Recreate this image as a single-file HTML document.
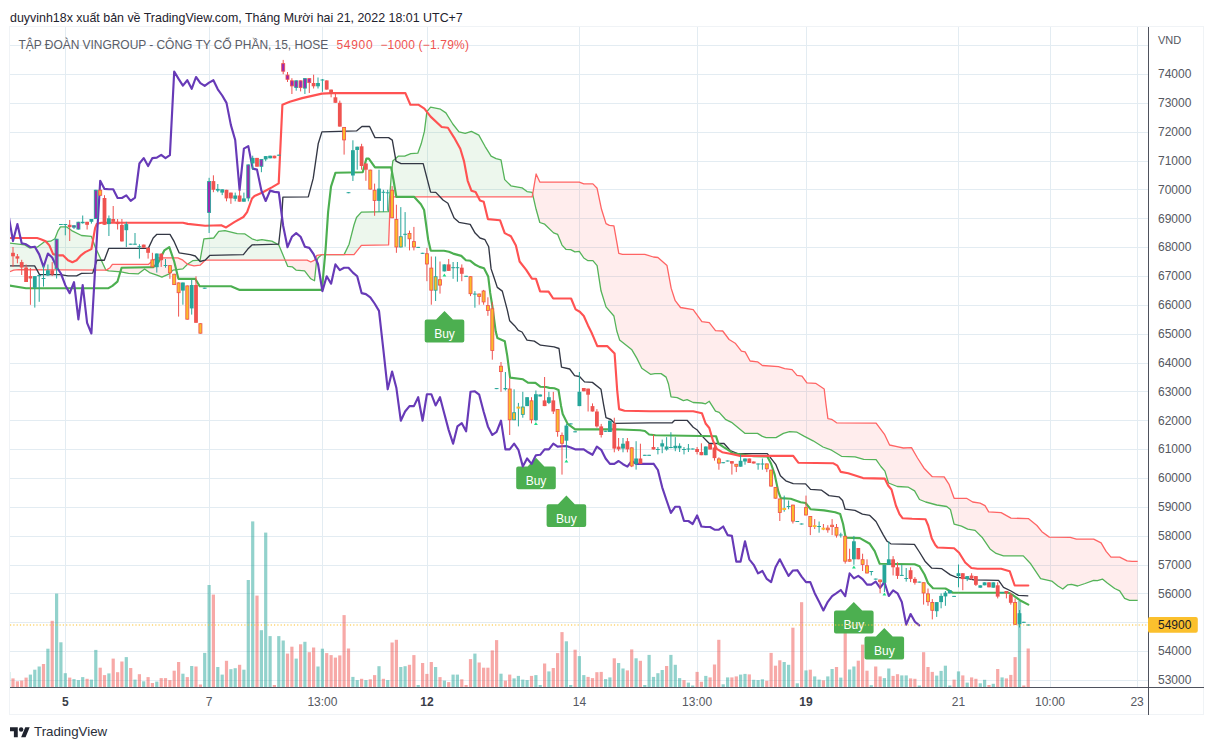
<!DOCTYPE html>
<html lang="vi">
<head>
<meta charset="utf-8">
<title>VIC chart</title>
<style>
html,body{margin:0;padding:0;background:#fff;}
body{width:1214px;height:750px;position:relative;overflow:hidden;font-family:"Liberation Sans",sans-serif;}
.hdr{position:absolute;left:10px;top:10px;font-size:12.43px;line-height:16px;color:#1e222d;white-space:nowrap;}
.leg{position:absolute;left:18.6px;top:37px;font-size:12px;line-height:16px;color:#5a5d68;white-space:nowrap;}
.leg span{letter-spacing:-0.05px;}
.leg b{font-weight:normal;color:#ef5350;}
.leg .b1{margin-left:8.3px;letter-spacing:0.7px;}
.leg .b2{margin-left:7px;letter-spacing:0.19px;}
.ftr{position:absolute;left:34px;top:722.5px;font-size:13.3px;line-height:18px;color:#2a2e39;white-space:nowrap;}
</style>
</head>
<body>
<svg width="1214" height="750" viewBox="0 0 1214 750" style="position:absolute;left:0;top:0">
<defs><clipPath id="pane"><rect x="10" y="27" width="1138" height="660"/></clipPath></defs>
<rect x="9.5" y="26.5" width="1194" height="688" fill="#fff" stroke="#f0f3f6" stroke-width="1"/>
<path d="M10 680.5H1148M10 651.5H1148M10 622.5H1148M10 593.5H1148M10 565.5H1148M10 536.5H1148M10 507.5H1148M10 478.5H1148M10 449.5H1148M10 420.5H1148M10 391.5H1148M10 363.5H1148M10 334.5H1148M10 305.5H1148M10 276.5H1148M10 247.5H1148M10 218.5H1148M10 189.5H1148M10 161.5H1148M10 132.5H1148M10 103.5H1148M10 74.5H1148M10 45.5H1148M65.5 27V687M209.5 27V687M322.5 27V687M427.5 27V687M579.5 27V687M697.5 27V687M806.5 27V687M958.5 27V687M1050.5 27V687M1137.5 27V687" stroke="#e3ecf2" stroke-width="1" fill="none"/>
<g clip-path="url(#pane)">
<rect x="7.1" y="672.0" width="3.2" height="15.0" fill="rgba(38,166,154,0.5)"/>
<rect x="11.4" y="678.4" width="3.2" height="8.6" fill="rgba(239,83,80,0.5)"/>
<rect x="15.8" y="681.3" width="3.2" height="5.7" fill="rgba(239,83,80,0.5)"/>
<rect x="20.1" y="680.6" width="3.2" height="6.4" fill="rgba(239,83,80,0.5)"/>
<rect x="24.5" y="677.6" width="3.2" height="9.4" fill="rgba(239,83,80,0.5)"/>
<rect x="28.8" y="674.6" width="3.2" height="12.4" fill="rgba(38,166,154,0.5)"/>
<rect x="33.2" y="669.7" width="3.2" height="17.3" fill="rgba(38,166,154,0.5)"/>
<rect x="37.6" y="666.5" width="3.2" height="20.5" fill="rgba(38,166,154,0.5)"/>
<rect x="41.9" y="664.0" width="3.2" height="23.0" fill="rgba(239,83,80,0.5)"/>
<rect x="46.3" y="648.7" width="3.2" height="38.3" fill="rgba(38,166,154,0.5)"/>
<rect x="50.6" y="620.8" width="3.2" height="66.2" fill="rgba(239,83,80,0.5)"/>
<rect x="55.0" y="593.6" width="3.2" height="93.4" fill="rgba(38,166,154,0.5)"/>
<rect x="59.3" y="642.3" width="3.2" height="44.7" fill="rgba(38,166,154,0.5)"/>
<rect x="63.7" y="673.2" width="3.2" height="13.8" fill="rgba(38,166,154,0.5)"/>
<rect x="68.1" y="677.6" width="3.2" height="9.4" fill="rgba(239,83,80,0.5)"/>
<rect x="72.4" y="679.1" width="3.2" height="7.9" fill="rgba(38,166,154,0.5)"/>
<rect x="76.8" y="680.1" width="3.2" height="6.9" fill="rgba(38,166,154,0.5)"/>
<rect x="81.1" y="677.1" width="3.2" height="9.9" fill="rgba(38,166,154,0.5)"/>
<rect x="85.5" y="678.8" width="3.2" height="8.2" fill="rgba(239,83,80,0.5)"/>
<rect x="89.8" y="679.6" width="3.2" height="7.4" fill="rgba(38,166,154,0.5)"/>
<rect x="94.2" y="649.9" width="3.2" height="37.1" fill="rgba(38,166,154,0.5)"/>
<rect x="98.6" y="667.7" width="3.2" height="19.3" fill="rgba(239,83,80,0.5)"/>
<rect x="102.9" y="675.1" width="3.2" height="11.9" fill="rgba(239,83,80,0.5)"/>
<rect x="107.3" y="673.4" width="3.2" height="13.6" fill="rgba(38,166,154,0.5)"/>
<rect x="111.6" y="658.6" width="3.2" height="28.4" fill="rgba(239,83,80,0.5)"/>
<rect x="116.0" y="672.2" width="3.2" height="14.8" fill="rgba(239,83,80,0.5)"/>
<rect x="120.3" y="661.5" width="3.2" height="25.5" fill="rgba(239,83,80,0.5)"/>
<rect x="124.7" y="657.1" width="3.2" height="29.9" fill="rgba(38,166,154,0.5)"/>
<rect x="129.1" y="668.0" width="3.2" height="19.0" fill="rgba(239,83,80,0.5)"/>
<rect x="133.4" y="679.6" width="3.2" height="7.4" fill="rgba(38,166,154,0.5)"/>
<rect x="137.8" y="674.2" width="3.2" height="12.8" fill="rgba(239,83,80,0.5)"/>
<rect x="142.1" y="681.3" width="3.2" height="5.7" fill="rgba(38,166,154,0.5)"/>
<rect x="146.5" y="677.1" width="3.2" height="9.9" fill="rgba(239,83,80,0.5)"/>
<rect x="150.8" y="683.0" width="3.2" height="4.0" fill="rgba(239,83,80,0.5)"/>
<rect x="155.2" y="681.6" width="3.2" height="5.4" fill="rgba(38,166,154,0.5)"/>
<rect x="159.6" y="678.1" width="3.2" height="8.9" fill="rgba(239,83,80,0.5)"/>
<rect x="163.9" y="678.1" width="3.2" height="8.9" fill="rgba(239,83,80,0.5)"/>
<rect x="168.3" y="680.1" width="3.2" height="6.9" fill="rgba(239,83,80,0.5)"/>
<rect x="172.6" y="670.7" width="3.2" height="16.3" fill="rgba(239,83,80,0.5)"/>
<rect x="177.0" y="662.0" width="3.2" height="25.0" fill="rgba(239,83,80,0.5)"/>
<rect x="181.3" y="673.7" width="3.2" height="13.3" fill="rgba(38,166,154,0.5)"/>
<rect x="185.7" y="677.1" width="3.2" height="9.9" fill="rgba(239,83,80,0.5)"/>
<rect x="190.1" y="666.0" width="3.2" height="21.0" fill="rgba(38,166,154,0.5)"/>
<rect x="194.4" y="666.5" width="3.2" height="20.5" fill="rgba(239,83,80,0.5)"/>
<rect x="198.8" y="684.5" width="3.2" height="2.5" fill="rgba(239,83,80,0.5)"/>
<rect x="203.1" y="652.9" width="3.2" height="34.1" fill="rgba(38,166,154,0.5)"/>
<rect x="207.5" y="585.0" width="3.2" height="102.0" fill="rgba(38,166,154,0.5)"/>
<rect x="211.8" y="594.6" width="3.2" height="92.4" fill="rgba(239,83,80,0.5)"/>
<rect x="216.2" y="667.0" width="3.2" height="20.0" fill="rgba(38,166,154,0.5)"/>
<rect x="220.6" y="674.6" width="3.2" height="12.4" fill="rgba(38,166,154,0.5)"/>
<rect x="224.9" y="660.8" width="3.2" height="26.2" fill="rgba(239,83,80,0.5)"/>
<rect x="229.3" y="669.2" width="3.2" height="17.8" fill="rgba(38,166,154,0.5)"/>
<rect x="233.6" y="668.2" width="3.2" height="18.8" fill="rgba(38,166,154,0.5)"/>
<rect x="238.0" y="664.8" width="3.2" height="22.2" fill="rgba(239,83,80,0.5)"/>
<rect x="242.3" y="669.7" width="3.2" height="17.3" fill="rgba(38,166,154,0.5)"/>
<rect x="246.7" y="580.0" width="3.2" height="107.0" fill="rgba(38,166,154,0.5)"/>
<rect x="251.1" y="521.4" width="3.2" height="165.6" fill="rgba(38,166,154,0.5)"/>
<rect x="255.4" y="595.6" width="3.2" height="91.4" fill="rgba(239,83,80,0.5)"/>
<rect x="259.8" y="630.2" width="3.2" height="56.8" fill="rgba(38,166,154,0.5)"/>
<rect x="264.1" y="532.6" width="3.2" height="154.4" fill="rgba(38,166,154,0.5)"/>
<rect x="268.5" y="636.1" width="3.2" height="50.9" fill="rgba(38,166,154,0.5)"/>
<rect x="272.8" y="685.0" width="3.2" height="2.0" fill="rgba(239,83,80,0.5)"/>
<rect x="277.2" y="636.1" width="3.2" height="50.9" fill="rgba(38,166,154,0.5)"/>
<rect x="281.6" y="640.5" width="3.2" height="46.5" fill="rgba(38,166,154,0.5)"/>
<rect x="285.9" y="653.6" width="3.2" height="33.4" fill="rgba(239,83,80,0.5)"/>
<rect x="290.3" y="646.7" width="3.2" height="40.3" fill="rgba(239,83,80,0.5)"/>
<rect x="294.6" y="658.6" width="3.2" height="28.4" fill="rgba(38,166,154,0.5)"/>
<rect x="299.0" y="644.3" width="3.2" height="42.7" fill="rgba(239,83,80,0.5)"/>
<rect x="303.3" y="641.8" width="3.2" height="45.2" fill="rgba(38,166,154,0.5)"/>
<rect x="307.7" y="652.2" width="3.2" height="34.8" fill="rgba(239,83,80,0.5)"/>
<rect x="312.0" y="647.5" width="3.2" height="39.5" fill="rgba(239,83,80,0.5)"/>
<rect x="316.4" y="666.5" width="3.2" height="20.5" fill="rgba(38,166,154,0.5)"/>
<rect x="320.8" y="648.7" width="3.2" height="38.3" fill="rgba(38,166,154,0.5)"/>
<rect x="325.1" y="653.1" width="3.2" height="33.9" fill="rgba(239,83,80,0.5)"/>
<rect x="329.5" y="655.1" width="3.2" height="31.9" fill="rgba(239,83,80,0.5)"/>
<rect x="333.8" y="657.6" width="3.2" height="29.4" fill="rgba(239,83,80,0.5)"/>
<rect x="338.2" y="655.4" width="3.2" height="31.6" fill="rgba(239,83,80,0.5)"/>
<rect x="342.5" y="615.1" width="3.2" height="71.9" fill="rgba(239,83,80,0.5)"/>
<rect x="346.9" y="648.5" width="3.2" height="38.5" fill="rgba(239,83,80,0.5)"/>
<rect x="351.3" y="676.9" width="3.2" height="10.1" fill="rgba(38,166,154,0.5)"/>
<rect x="355.6" y="680.1" width="3.2" height="6.9" fill="rgba(38,166,154,0.5)"/>
<rect x="360.0" y="678.8" width="3.2" height="8.2" fill="rgba(239,83,80,0.5)"/>
<rect x="364.3" y="680.1" width="3.2" height="6.9" fill="rgba(38,166,154,0.5)"/>
<rect x="368.7" y="679.3" width="3.2" height="7.7" fill="rgba(239,83,80,0.5)"/>
<rect x="373.0" y="675.1" width="3.2" height="11.9" fill="rgba(239,83,80,0.5)"/>
<rect x="377.4" y="666.2" width="3.2" height="20.8" fill="rgba(38,166,154,0.5)"/>
<rect x="381.8" y="678.8" width="3.2" height="8.2" fill="rgba(239,83,80,0.5)"/>
<rect x="386.1" y="680.1" width="3.2" height="6.9" fill="rgba(38,166,154,0.5)"/>
<rect x="390.5" y="642.5" width="3.2" height="44.5" fill="rgba(239,83,80,0.5)"/>
<rect x="394.8" y="639.8" width="3.2" height="47.2" fill="rgba(239,83,80,0.5)"/>
<rect x="399.2" y="667.0" width="3.2" height="20.0" fill="rgba(38,166,154,0.5)"/>
<rect x="403.5" y="666.2" width="3.2" height="20.8" fill="rgba(38,166,154,0.5)"/>
<rect x="407.9" y="664.8" width="3.2" height="22.2" fill="rgba(239,83,80,0.5)"/>
<rect x="412.3" y="655.1" width="3.2" height="31.9" fill="rgba(239,83,80,0.5)"/>
<rect x="416.6" y="685.0" width="3.2" height="2.0" fill="rgba(38,166,154,0.5)"/>
<rect x="421.0" y="663.0" width="3.2" height="24.0" fill="rgba(239,83,80,0.5)"/>
<rect x="425.3" y="673.9" width="3.2" height="13.1" fill="rgba(239,83,80,0.5)"/>
<rect x="429.7" y="662.0" width="3.2" height="25.0" fill="rgba(239,83,80,0.5)"/>
<rect x="434.0" y="667.0" width="3.2" height="20.0" fill="rgba(38,166,154,0.5)"/>
<rect x="438.4" y="677.1" width="3.2" height="9.9" fill="rgba(239,83,80,0.5)"/>
<rect x="442.8" y="680.6" width="3.2" height="6.4" fill="rgba(38,166,154,0.5)"/>
<rect x="447.1" y="682.1" width="3.2" height="4.9" fill="rgba(239,83,80,0.5)"/>
<rect x="451.5" y="674.6" width="3.2" height="12.4" fill="rgba(38,166,154,0.5)"/>
<rect x="455.8" y="674.6" width="3.2" height="12.4" fill="rgba(38,166,154,0.5)"/>
<rect x="460.2" y="679.3" width="3.2" height="7.7" fill="rgba(239,83,80,0.5)"/>
<rect x="464.5" y="685.0" width="3.2" height="2.0" fill="rgba(239,83,80,0.5)"/>
<rect x="468.9" y="659.1" width="3.2" height="27.9" fill="rgba(239,83,80,0.5)"/>
<rect x="473.3" y="653.6" width="3.2" height="33.4" fill="rgba(38,166,154,0.5)"/>
<rect x="477.6" y="662.5" width="3.2" height="24.5" fill="rgba(239,83,80,0.5)"/>
<rect x="482.0" y="667.7" width="3.2" height="19.3" fill="rgba(239,83,80,0.5)"/>
<rect x="486.3" y="667.7" width="3.2" height="19.3" fill="rgba(239,83,80,0.5)"/>
<rect x="490.7" y="650.4" width="3.2" height="36.6" fill="rgba(239,83,80,0.5)"/>
<rect x="495.0" y="640.1" width="3.2" height="46.9" fill="rgba(239,83,80,0.5)"/>
<rect x="499.4" y="673.7" width="3.2" height="13.3" fill="rgba(38,166,154,0.5)"/>
<rect x="503.8" y="680.6" width="3.2" height="6.4" fill="rgba(239,83,80,0.5)"/>
<rect x="508.1" y="674.6" width="3.2" height="12.4" fill="rgba(239,83,80,0.5)"/>
<rect x="512.5" y="678.4" width="3.2" height="8.6" fill="rgba(38,166,154,0.5)"/>
<rect x="516.8" y="675.9" width="3.2" height="11.1" fill="rgba(38,166,154,0.5)"/>
<rect x="521.2" y="679.6" width="3.2" height="7.4" fill="rgba(38,166,154,0.5)"/>
<rect x="525.5" y="680.1" width="3.2" height="6.9" fill="rgba(38,166,154,0.5)"/>
<rect x="529.9" y="675.9" width="3.2" height="11.1" fill="rgba(239,83,80,0.5)"/>
<rect x="534.3" y="675.1" width="3.2" height="11.9" fill="rgba(38,166,154,0.5)"/>
<rect x="538.6" y="685.0" width="3.2" height="2.0" fill="rgba(38,166,154,0.5)"/>
<rect x="543.0" y="663.5" width="3.2" height="23.5" fill="rgba(239,83,80,0.5)"/>
<rect x="547.3" y="671.4" width="3.2" height="15.6" fill="rgba(38,166,154,0.5)"/>
<rect x="551.7" y="668.0" width="3.2" height="19.0" fill="rgba(239,83,80,0.5)"/>
<rect x="556.0" y="653.1" width="3.2" height="33.9" fill="rgba(239,83,80,0.5)"/>
<rect x="560.4" y="632.1" width="3.2" height="54.9" fill="rgba(239,83,80,0.5)"/>
<rect x="564.8" y="641.3" width="3.2" height="45.7" fill="rgba(38,166,154,0.5)"/>
<rect x="569.1" y="685.0" width="3.2" height="2.0" fill="rgba(38,166,154,0.5)"/>
<rect x="573.5" y="649.7" width="3.2" height="37.3" fill="rgba(239,83,80,0.5)"/>
<rect x="577.8" y="656.1" width="3.2" height="30.9" fill="rgba(38,166,154,0.5)"/>
<rect x="582.2" y="675.1" width="3.2" height="11.9" fill="rgba(38,166,154,0.5)"/>
<rect x="586.5" y="676.9" width="3.2" height="10.1" fill="rgba(239,83,80,0.5)"/>
<rect x="590.9" y="678.1" width="3.2" height="8.9" fill="rgba(239,83,80,0.5)"/>
<rect x="595.3" y="672.2" width="3.2" height="14.8" fill="rgba(239,83,80,0.5)"/>
<rect x="599.6" y="671.9" width="3.2" height="15.1" fill="rgba(239,83,80,0.5)"/>
<rect x="604.0" y="679.1" width="3.2" height="7.9" fill="rgba(38,166,154,0.5)"/>
<rect x="608.3" y="677.4" width="3.2" height="9.6" fill="rgba(38,166,154,0.5)"/>
<rect x="612.7" y="658.3" width="3.2" height="28.7" fill="rgba(239,83,80,0.5)"/>
<rect x="617.0" y="663.0" width="3.2" height="24.0" fill="rgba(38,166,154,0.5)"/>
<rect x="621.4" y="668.5" width="3.2" height="18.5" fill="rgba(38,166,154,0.5)"/>
<rect x="625.8" y="670.4" width="3.2" height="16.6" fill="rgba(239,83,80,0.5)"/>
<rect x="630.1" y="649.4" width="3.2" height="37.6" fill="rgba(239,83,80,0.5)"/>
<rect x="634.5" y="658.3" width="3.2" height="28.7" fill="rgba(38,166,154,0.5)"/>
<rect x="638.8" y="660.8" width="3.2" height="26.2" fill="rgba(239,83,80,0.5)"/>
<rect x="643.2" y="685.0" width="3.2" height="2.0" fill="rgba(38,166,154,0.5)"/>
<rect x="647.5" y="654.9" width="3.2" height="32.1" fill="rgba(38,166,154,0.5)"/>
<rect x="651.9" y="676.9" width="3.2" height="10.1" fill="rgba(38,166,154,0.5)"/>
<rect x="656.3" y="673.2" width="3.2" height="13.8" fill="rgba(38,166,154,0.5)"/>
<rect x="660.6" y="670.0" width="3.2" height="17.0" fill="rgba(38,166,154,0.5)"/>
<rect x="665.0" y="666.0" width="3.2" height="21.0" fill="rgba(239,83,80,0.5)"/>
<rect x="669.3" y="654.9" width="3.2" height="32.1" fill="rgba(38,166,154,0.5)"/>
<rect x="673.7" y="664.8" width="3.2" height="22.2" fill="rgba(38,166,154,0.5)"/>
<rect x="678.0" y="678.1" width="3.2" height="8.9" fill="rgba(38,166,154,0.5)"/>
<rect x="682.4" y="680.1" width="3.2" height="6.9" fill="rgba(239,83,80,0.5)"/>
<rect x="686.8" y="682.6" width="3.2" height="4.4" fill="rgba(38,166,154,0.5)"/>
<rect x="691.1" y="685.5" width="3.2" height="1.5" fill="rgba(38,166,154,0.5)"/>
<rect x="695.5" y="671.9" width="3.2" height="15.1" fill="rgba(239,83,80,0.5)"/>
<rect x="699.8" y="681.8" width="3.2" height="5.2" fill="rgba(239,83,80,0.5)"/>
<rect x="704.2" y="675.9" width="3.2" height="11.1" fill="rgba(38,166,154,0.5)"/>
<rect x="708.5" y="677.4" width="3.2" height="9.6" fill="rgba(239,83,80,0.5)"/>
<rect x="712.9" y="664.5" width="3.2" height="22.5" fill="rgba(239,83,80,0.5)"/>
<rect x="717.2" y="639.8" width="3.2" height="47.2" fill="rgba(239,83,80,0.5)"/>
<rect x="721.6" y="684.3" width="3.2" height="2.7" fill="rgba(38,166,154,0.5)"/>
<rect x="726.0" y="677.4" width="3.2" height="9.6" fill="rgba(38,166,154,0.5)"/>
<rect x="730.3" y="677.4" width="3.2" height="9.6" fill="rgba(239,83,80,0.5)"/>
<rect x="734.7" y="676.4" width="3.2" height="10.6" fill="rgba(239,83,80,0.5)"/>
<rect x="739.0" y="674.6" width="3.2" height="12.4" fill="rgba(38,166,154,0.5)"/>
<rect x="743.4" y="673.9" width="3.2" height="13.1" fill="rgba(38,166,154,0.5)"/>
<rect x="747.7" y="674.4" width="3.2" height="12.6" fill="rgba(239,83,80,0.5)"/>
<rect x="752.1" y="679.8" width="3.2" height="7.2" fill="rgba(38,166,154,0.5)"/>
<rect x="756.5" y="680.1" width="3.2" height="6.9" fill="rgba(38,166,154,0.5)"/>
<rect x="760.8" y="679.3" width="3.2" height="7.7" fill="rgba(38,166,154,0.5)"/>
<rect x="765.2" y="680.8" width="3.2" height="6.2" fill="rgba(239,83,80,0.5)"/>
<rect x="769.5" y="652.9" width="3.2" height="34.1" fill="rgba(239,83,80,0.5)"/>
<rect x="773.9" y="665.7" width="3.2" height="21.3" fill="rgba(239,83,80,0.5)"/>
<rect x="778.2" y="660.3" width="3.2" height="26.7" fill="rgba(239,83,80,0.5)"/>
<rect x="782.6" y="662.0" width="3.2" height="25.0" fill="rgba(38,166,154,0.5)"/>
<rect x="787.0" y="664.8" width="3.2" height="22.2" fill="rgba(38,166,154,0.5)"/>
<rect x="791.3" y="627.7" width="3.2" height="59.3" fill="rgba(239,83,80,0.5)"/>
<rect x="795.7" y="683.3" width="3.2" height="3.7" fill="rgba(38,166,154,0.5)"/>
<rect x="800.0" y="602.2" width="3.2" height="84.8" fill="rgba(239,83,80,0.5)"/>
<rect x="804.4" y="670.4" width="3.2" height="16.6" fill="rgba(38,166,154,0.5)"/>
<rect x="808.7" y="669.7" width="3.2" height="17.3" fill="rgba(239,83,80,0.5)"/>
<rect x="813.1" y="676.4" width="3.2" height="10.6" fill="rgba(38,166,154,0.5)"/>
<rect x="817.5" y="679.6" width="3.2" height="7.4" fill="rgba(38,166,154,0.5)"/>
<rect x="821.8" y="680.3" width="3.2" height="6.7" fill="rgba(239,83,80,0.5)"/>
<rect x="826.2" y="676.4" width="3.2" height="10.6" fill="rgba(38,166,154,0.5)"/>
<rect x="830.5" y="669.0" width="3.2" height="18.0" fill="rgba(38,166,154,0.5)"/>
<rect x="834.9" y="667.0" width="3.2" height="20.0" fill="rgba(239,83,80,0.5)"/>
<rect x="839.2" y="677.6" width="3.2" height="9.4" fill="rgba(38,166,154,0.5)"/>
<rect x="843.6" y="611.0" width="3.2" height="76.0" fill="rgba(239,83,80,0.5)"/>
<rect x="848.0" y="669.5" width="3.2" height="17.5" fill="rgba(38,166,154,0.5)"/>
<rect x="852.3" y="666.5" width="3.2" height="20.5" fill="rgba(38,166,154,0.5)"/>
<rect x="856.7" y="660.7" width="3.2" height="26.3" fill="rgba(239,83,80,0.5)"/>
<rect x="861.0" y="644.6" width="3.2" height="42.4" fill="rgba(239,83,80,0.5)"/>
<rect x="865.4" y="670.7" width="3.2" height="16.3" fill="rgba(239,83,80,0.5)"/>
<rect x="869.7" y="685.2" width="3.2" height="1.8" fill="rgba(38,166,154,0.5)"/>
<rect x="874.1" y="666.5" width="3.2" height="20.5" fill="rgba(239,83,80,0.5)"/>
<rect x="878.5" y="676.4" width="3.2" height="10.6" fill="rgba(239,83,80,0.5)"/>
<rect x="882.8" y="678.1" width="3.2" height="8.9" fill="rgba(38,166,154,0.5)"/>
<rect x="887.2" y="668.5" width="3.2" height="18.5" fill="rgba(38,166,154,0.5)"/>
<rect x="891.5" y="675.9" width="3.2" height="11.1" fill="rgba(239,83,80,0.5)"/>
<rect x="895.9" y="674.2" width="3.2" height="12.8" fill="rgba(239,83,80,0.5)"/>
<rect x="900.2" y="675.4" width="3.2" height="11.6" fill="rgba(38,166,154,0.5)"/>
<rect x="904.6" y="675.4" width="3.2" height="11.6" fill="rgba(38,166,154,0.5)"/>
<rect x="909.0" y="678.4" width="3.2" height="8.6" fill="rgba(239,83,80,0.5)"/>
<rect x="913.3" y="678.8" width="3.2" height="8.2" fill="rgba(239,83,80,0.5)"/>
<rect x="917.7" y="685.5" width="3.2" height="1.5" fill="rgba(38,166,154,0.5)"/>
<rect x="922.0" y="652.2" width="3.2" height="34.8" fill="rgba(239,83,80,0.5)"/>
<rect x="926.4" y="667.0" width="3.2" height="20.0" fill="rgba(239,83,80,0.5)"/>
<rect x="930.7" y="671.9" width="3.2" height="15.1" fill="rgba(239,83,80,0.5)"/>
<rect x="935.1" y="675.6" width="3.2" height="11.4" fill="rgba(38,166,154,0.5)"/>
<rect x="939.5" y="670.9" width="3.2" height="16.1" fill="rgba(38,166,154,0.5)"/>
<rect x="943.8" y="665.7" width="3.2" height="21.3" fill="rgba(38,166,154,0.5)"/>
<rect x="948.2" y="685.5" width="3.2" height="1.5" fill="rgba(38,166,154,0.5)"/>
<rect x="952.5" y="679.6" width="3.2" height="7.4" fill="rgba(239,83,80,0.5)"/>
<rect x="956.9" y="671.4" width="3.2" height="15.6" fill="rgba(38,166,154,0.5)"/>
<rect x="961.2" y="675.4" width="3.2" height="11.6" fill="rgba(239,83,80,0.5)"/>
<rect x="965.6" y="682.6" width="3.2" height="4.4" fill="rgba(38,166,154,0.5)"/>
<rect x="970.0" y="677.4" width="3.2" height="9.6" fill="rgba(239,83,80,0.5)"/>
<rect x="974.3" y="678.8" width="3.2" height="8.2" fill="rgba(239,83,80,0.5)"/>
<rect x="978.7" y="683.3" width="3.2" height="3.7" fill="rgba(38,166,154,0.5)"/>
<rect x="983.0" y="679.8" width="3.2" height="7.2" fill="rgba(38,166,154,0.5)"/>
<rect x="987.4" y="685.0" width="3.2" height="2.0" fill="rgba(239,83,80,0.5)"/>
<rect x="991.7" y="683.8" width="3.2" height="3.2" fill="rgba(38,166,154,0.5)"/>
<rect x="996.1" y="669.0" width="3.2" height="18.0" fill="rgba(239,83,80,0.5)"/>
<rect x="1000.5" y="677.4" width="3.2" height="9.6" fill="rgba(38,166,154,0.5)"/>
<rect x="1004.8" y="678.4" width="3.2" height="8.6" fill="rgba(239,83,80,0.5)"/>
<rect x="1009.2" y="674.9" width="3.2" height="12.1" fill="rgba(239,83,80,0.5)"/>
<rect x="1013.5" y="657.1" width="3.2" height="29.9" fill="rgba(239,83,80,0.5)"/>
<rect x="1017.9" y="601.0" width="3.2" height="86.0" fill="rgba(38,166,154,0.5)"/>
<rect x="1022.2" y="685.5" width="3.2" height="1.5" fill="rgba(239,83,80,0.5)"/>
<rect x="1026.6" y="648.5" width="3.2" height="38.5" fill="rgba(239,83,80,0.5)"/>
<path d="M444.5 311.0l8.4 8.6h9.4a2 2 0 0 1 2 2v18.9a2 2 0 0 1-2 2h-35.6a2 2 0 0 1-2-2v-18.9a2 2 0 0 1 2-2h9.4z" fill="#4caf50"/>
<text x="444.5" y="338.2" font-size="12" fill="#fff" text-anchor="middle" font-family="Liberation Sans, sans-serif">Buy</text>
<path d="M536.0 457.8l8.4 8.6h9.4a2 2 0 0 1 2 2v18.9a2 2 0 0 1-2 2h-35.6a2 2 0 0 1-2-2v-18.9a2 2 0 0 1 2-2h9.4z" fill="#4caf50"/>
<text x="536.0" y="485.0" font-size="12" fill="#fff" text-anchor="middle" font-family="Liberation Sans, sans-serif">Buy</text>
<path d="M566.4 495.6l8.4 8.6h9.4a2 2 0 0 1 2 2v18.9a2 2 0 0 1-2 2h-35.6a2 2 0 0 1-2-2v-18.9a2 2 0 0 1 2-2h9.4z" fill="#4caf50"/>
<text x="566.4" y="522.8" font-size="12" fill="#fff" text-anchor="middle" font-family="Liberation Sans, sans-serif">Buy</text>
<path d="M853.8 602.0l8.4 8.6h9.4a2 2 0 0 1 2 2v18.9a2 2 0 0 1-2 2h-35.6a2 2 0 0 1-2-2v-18.9a2 2 0 0 1 2-2h9.4z" fill="#4caf50"/>
<text x="853.8" y="629.2" font-size="12" fill="#fff" text-anchor="middle" font-family="Liberation Sans, sans-serif">Buy</text>
<path d="M884.3 628.0l8.4 8.6h9.4a2 2 0 0 1 2 2v18.9a2 2 0 0 1-2 2h-35.6a2 2 0 0 1-2-2v-18.9a2 2 0 0 1 2-2h9.4z" fill="#4caf50"/>
<text x="884.3" y="655.2" font-size="12" fill="#fff" text-anchor="middle" font-family="Liberation Sans, sans-serif">Buy</text>
<polygon points="8.0,242.8 8.5,242.9 9.0,242.9 9.5,243.0 10.0,243.1 10.5,243.1 11.0,243.2 11.5,243.2 12.0,243.3 12.5,243.4 13.0,243.4 13.5,243.5 14.0,243.6 14.5,243.6 15.0,243.7 15.5,243.7 16.0,243.8 16.5,243.9 17.0,243.9 17.5,244.0 18.0,244.1 18.5,244.1 19.0,244.2 19.5,244.2 20.0,244.3 20.5,244.4 21.0,244.4 21.5,244.5 22.0,244.6 22.5,244.6 23.0,244.7 23.5,244.7 24.0,244.8 24.5,244.9 25.0,245.1 25.5,245.4 26.0,245.7 26.5,246.0 27.0,246.3 27.5,246.6 28.0,246.9 28.5,247.2 29.0,247.5 29.5,247.8 30.0,247.9 30.5,247.8 31.0,247.8 31.5,247.7 32.0,247.7 32.5,247.6 33.0,247.6 33.5,247.5 34.0,247.5 34.5,247.4 35.0,247.4 35.5,247.4 36.0,247.3 36.5,247.3 37.0,247.2 37.5,246.9 38.0,246.5 38.5,246.2 39.0,245.8 39.5,245.4 40.0,245.0 40.5,244.7 41.0,244.3 41.5,243.9 42.0,243.6 42.5,243.2 43.0,242.8 43.5,242.4 44.0,242.1 44.5,241.7 45.0,241.7 45.5,241.6 46.0,241.6 46.5,241.5 47.0,241.5 47.5,241.5 48.0,241.4 48.5,241.4 49.0,241.3 49.5,241.3 50.0,241.3 50.5,241.2 51.0,241.0 51.5,240.7 52.0,240.5 52.5,240.2 53.0,239.9 53.5,239.6 54.0,239.3 54.5,239.0 55.0,238.5 55.5,237.3 56.0,236.0 56.5,234.7 57.0,233.4 57.5,232.1 58.0,230.9 58.5,230.0 59.0,229.2 59.5,228.4 60.0,227.7 60.5,226.9 61.0,226.9 61.5,226.9 62.0,226.9 62.5,226.9 63.0,226.9 63.5,226.9 64.0,226.9 64.5,226.9 65.0,226.9 65.5,226.9 66.0,226.9 66.5,226.9 67.0,227.1 67.5,227.5 68.0,227.9 68.5,228.2 69.0,228.6 69.5,229.0 70.0,229.3 70.5,229.7 71.0,230.1 71.5,230.5 72.0,230.8 72.5,231.0 73.0,231.2 73.5,231.5 74.0,231.8 74.5,232.0 75.0,232.2 75.5,232.5 76.0,232.8 76.5,233.0 77.0,233.2 77.5,233.5 78.0,233.8 78.5,234.0 79.0,234.2 79.5,234.5 80.0,234.8 80.5,235.0 81.0,235.2 81.5,235.5 82.0,235.5 82.5,235.6 83.0,235.6 83.5,235.7 84.0,235.7 84.5,235.7 85.0,235.8 85.5,235.8 86.0,235.9 86.5,235.9 87.0,235.9 87.5,236.0 88.0,236.0 88.5,236.1 89.0,236.1 89.5,236.1 90.0,236.2 90.5,236.2 91.0,236.3 91.5,236.6 92.0,238.0 92.5,239.4 93.0,240.8 93.5,242.2 94.0,243.6 94.5,245.0 95.0,246.4 95.5,247.6 96.0,248.7 96.5,249.7 97.0,250.8 97.5,251.9 98.0,253.0 98.5,254.1 99.0,255.2 99.5,256.3 100.0,257.4 100.5,258.5 101.0,259.5 101.5,260.6 102.0,261.7 102.5,262.8 103.0,263.9 103.5,265.0 104.0,266.1 104.5,267.2 105.0,268.3 105.5,269.4 106.0,270.2 106.0,270.1 105.5,270.1 105.0,270.1 104.5,270.1 104.0,270.1 103.5,270.1 103.0,270.1 102.5,270.1 102.0,270.1 101.5,270.1 101.0,270.1 100.5,270.1 100.0,270.1 99.5,270.1 99.0,270.1 98.5,270.1 98.0,270.1 97.5,270.0 97.0,270.0 96.5,270.0 96.0,270.0 95.5,270.0 95.0,270.0 94.5,270.0 94.0,270.0 93.5,270.0 93.0,270.0 92.5,270.0 92.0,270.0 91.5,270.0 91.0,270.0 90.5,270.0 90.0,270.0 89.5,270.0 89.0,270.0 88.5,270.0 88.0,270.0 87.5,270.0 87.0,270.0 86.5,270.0 86.0,270.0 85.5,270.0 85.0,270.0 84.5,270.0 84.0,270.0 83.5,270.0 83.0,270.0 82.5,270.0 82.0,270.0 81.5,270.0 81.0,270.0 80.5,270.0 80.0,270.0 79.5,269.9 79.0,269.9 78.5,269.9 78.0,269.9 77.5,269.9 77.0,269.9 76.5,269.9 76.0,269.9 75.5,269.9 75.0,269.9 74.5,269.9 74.0,269.9 73.5,269.9 73.0,269.9 72.5,269.9 72.0,269.9 71.5,269.9 71.0,269.9 70.5,269.9 70.0,269.9 69.5,269.9 69.0,269.9 68.5,269.9 68.0,269.9 67.5,269.9 67.0,269.9 66.5,269.9 66.0,269.9 65.5,269.9 65.0,269.9 64.5,269.9 64.0,269.9 63.5,269.9 63.0,269.9 62.5,269.9 62.0,269.8 61.5,269.8 61.0,269.8 60.5,269.8 60.0,269.8 59.5,269.8 59.0,269.8 58.5,269.8 58.0,269.8 57.5,269.8 57.0,269.8 56.5,269.8 56.0,269.8 55.5,269.8 55.0,269.8 54.5,269.8 54.0,269.8 53.5,269.8 53.0,269.8 52.5,269.8 52.0,269.8 51.5,269.8 51.0,269.8 50.5,269.8 50.0,269.8 49.5,269.8 49.0,269.8 48.5,269.8 48.0,269.8 47.5,269.8 47.0,269.8 46.5,269.8 46.0,269.8 45.5,269.8 45.0,269.8 44.5,269.7 44.0,269.7 43.5,269.7 43.0,269.7 42.5,269.7 42.0,269.7 41.5,269.7 41.0,269.7 40.5,269.7 40.0,269.7 39.5,269.7 39.0,269.7 38.5,269.7 38.0,269.7 37.5,269.7 37.0,269.7 36.5,269.7 36.0,269.7 35.5,269.7 35.0,269.7 34.5,269.7 34.0,269.7 33.5,269.7 33.0,269.7 32.5,269.7 32.0,269.7 31.5,269.7 31.0,269.7 30.5,269.7 30.0,269.7 29.5,269.7 29.0,269.7 28.5,269.7 28.0,269.7 27.5,269.7 27.0,269.6 26.5,269.6 26.0,269.6 25.5,269.6 25.0,269.6 24.5,269.6 24.0,269.6 23.5,269.6 23.0,269.6 22.5,269.6 22.0,269.6 21.5,269.6 21.0,269.6 20.5,269.6 20.0,269.6 19.5,269.6 19.0,269.6 18.5,269.6 18.0,269.7 17.5,269.7 17.0,269.8 16.5,269.8 16.0,269.9 15.5,269.9 15.0,270.0 14.5,270.0 14.0,270.1 13.5,270.1 13.0,270.4 12.5,270.6 12.0,270.8 11.5,271.0 11.0,271.2 10.5,271.4 10.0,271.6 9.5,271.9 9.0,272.1 8.5,272.3 8.0,272.5" fill="rgba(76,175,80,0.10)"/>
<polygon points="106.0,270.2 106.5,270.3 107.0,270.4 107.5,270.6 108.0,270.7 108.5,270.8 109.0,270.9 109.5,271.0 110.0,271.0 110.5,271.0 111.0,271.1 111.5,271.1 112.0,271.2 112.5,271.2 113.0,271.2 113.5,271.3 114.0,271.3 114.5,271.4 115.0,271.4 115.5,271.4 116.0,271.5 116.5,271.5 117.0,271.6 117.5,271.6 118.0,271.6 118.5,271.7 119.0,271.7 119.5,271.8 120.0,271.8 120.5,271.9 121.0,271.9 121.5,272.0 122.0,272.1 122.5,272.2 123.0,272.3 123.5,272.4 124.0,272.4 124.5,272.5 125.0,272.6 125.5,272.7 126.0,272.8 126.5,272.9 127.0,273.0 127.5,273.1 128.0,273.2 128.5,273.3 129.0,273.3 129.5,273.4 130.0,273.4 130.5,273.4 131.0,273.4 131.5,273.5 132.0,273.5 132.5,273.5 133.0,273.5 133.5,273.6 134.0,273.6 134.5,273.6 135.0,273.6 135.5,273.7 136.0,273.7 136.5,273.7 137.0,273.7 137.5,273.8 138.0,273.8 138.5,273.7 139.0,273.3 139.5,272.9 140.0,272.5 140.5,272.1 141.0,271.7 141.5,271.4 142.0,271.0 142.5,270.6 143.0,270.2 143.5,269.8 144.0,269.4 144.5,269.0 145.0,269.2 145.5,269.6 146.0,270.0 146.5,270.3 147.0,270.7 147.5,271.1 148.0,271.5 148.5,271.8 149.0,272.2 149.5,272.6 150.0,272.8 150.5,272.9 151.0,273.1 151.5,273.3 152.0,273.4 152.5,273.6 153.0,273.8 153.5,274.0 154.0,274.1 154.5,274.3 155.0,274.5 155.5,274.6 156.0,274.8 156.5,275.0 157.0,275.1 157.5,275.3 158.0,275.5 158.5,275.7 159.0,275.9 159.5,276.1 160.0,276.3 160.5,276.5 161.0,276.7 161.5,276.9 162.0,277.1 162.5,276.8 163.0,276.6 163.5,276.4 164.0,276.2 164.5,275.9 165.0,275.7 165.5,275.5 166.0,275.3 166.5,275.0 167.0,274.8 167.5,274.6 168.0,274.4 168.5,274.2 169.0,273.9 169.5,273.6 170.0,273.1 170.5,272.6 171.0,272.1 171.5,271.6 172.0,271.1 172.5,270.6 173.0,270.1 173.5,270.0 174.0,270.0 174.5,269.9 175.0,269.9 175.5,269.8 176.0,269.7 176.5,269.7 177.0,269.6 177.5,269.6 178.0,269.5 178.5,269.4 179.0,269.4 179.5,269.3 180.0,269.3 180.5,269.2 181.0,269.1 181.5,269.1 182.0,269.0 182.5,268.9 183.0,268.8 183.5,268.3 184.0,267.8 184.5,267.3 185.0,266.8 185.5,266.3 186.0,265.8 186.5,265.3 187.0,264.8 187.5,264.3 188.0,263.9 188.0,264.4 187.5,264.1 187.0,263.7 186.5,263.3 186.0,262.9 185.5,262.4 185.0,262.0 184.5,261.6 184.0,261.1 183.5,260.7 183.0,260.3 182.5,260.0 182.0,259.8 181.5,259.5 181.0,259.3 180.5,259.0 180.0,258.8 179.5,258.6 179.0,258.3 178.5,258.1 178.0,257.8 177.5,257.8 177.0,257.8 176.5,257.8 176.0,257.8 175.5,257.8 175.0,257.8 174.5,257.8 174.0,257.8 173.5,257.8 173.0,257.8 172.5,257.8 172.0,257.8 171.5,257.8 171.0,257.8 170.5,257.8 170.0,257.8 169.5,257.8 169.0,257.8 168.5,257.8 168.0,257.8 167.5,257.8 167.0,257.8 166.5,257.8 166.0,257.8 165.5,257.8 165.0,257.8 164.5,257.8 164.0,257.8 163.5,257.8 163.0,257.8 162.5,257.8 162.0,257.8 161.5,257.8 161.0,257.8 160.5,257.8 160.0,257.8 159.5,257.8 159.0,257.8 158.5,257.8 158.0,257.8 157.5,258.1 157.0,258.3 156.5,258.6 156.0,258.8 155.5,259.1 155.0,259.3 154.5,259.6 154.0,259.8 153.5,260.1 153.0,260.4 152.5,260.8 152.0,261.2 151.5,261.7 151.0,262.1 150.5,262.5 150.0,262.9 149.5,263.4 149.0,263.8 148.5,264.2 148.0,264.4 147.5,264.4 147.0,264.4 146.5,264.4 146.0,264.4 145.5,264.4 145.0,264.4 144.5,264.4 144.0,264.4 143.5,264.4 143.0,264.4 142.5,264.4 142.0,264.4 141.5,264.4 141.0,264.4 140.5,264.4 140.0,264.4 139.5,264.4 139.0,264.4 138.5,264.4 138.0,264.4 137.5,264.4 137.0,264.4 136.5,264.4 136.0,264.4 135.5,264.4 135.0,264.4 134.5,264.4 134.0,264.4 133.5,264.4 133.0,264.4 132.5,264.4 132.0,264.4 131.5,264.4 131.0,264.4 130.5,264.4 130.0,264.4 129.5,264.4 129.0,264.4 128.5,264.4 128.0,264.4 127.5,264.4 127.0,264.4 126.5,264.4 126.0,264.4 125.5,264.4 125.0,264.4 124.5,264.4 124.0,264.4 123.5,264.4 123.0,264.4 122.5,264.4 122.0,264.4 121.5,264.4 121.0,264.4 120.5,264.4 120.0,264.4 119.5,264.4 119.0,264.4 118.5,264.4 118.0,264.4 117.5,264.4 117.0,264.4 116.5,264.4 116.0,264.4 115.5,264.4 115.0,264.4 114.5,264.4 114.0,264.4 113.5,264.4 113.0,264.4 112.5,264.4 112.0,264.9 111.5,265.6 111.0,266.3 110.5,267.0 110.0,267.7 109.5,268.0 109.0,268.3 108.5,268.7 108.0,269.0 107.5,269.3 107.0,269.6 106.5,270.0 106.0,270.1" fill="rgba(255,82,82,0.10)"/>
<polygon points="188.0,263.9 188.5,263.5 189.0,263.2 189.5,262.9 190.0,262.5 190.5,262.2 191.0,261.8 191.5,261.5 192.0,261.2 192.5,260.8 193.0,260.7 193.5,260.6 194.0,260.6 194.5,260.6 195.0,260.5 195.5,260.5 196.0,260.5 196.5,260.4 197.0,260.4 197.5,260.4 198.0,260.3 198.5,260.3 199.0,260.3 199.5,260.2 200.0,260.2 200.5,257.9 201.0,255.1 201.5,252.3 202.0,249.5 202.5,246.7 203.0,243.9 203.5,241.1 204.0,238.8 204.5,238.8 205.0,238.7 205.5,238.7 206.0,238.6 206.5,238.6 207.0,238.5 207.5,238.5 208.0,238.5 208.5,238.4 209.0,238.4 209.5,238.3 210.0,238.3 210.5,238.3 211.0,238.2 211.5,238.2 212.0,238.1 212.5,238.1 213.0,238.1 213.5,238.0 214.0,237.6 214.5,236.9 215.0,236.3 215.5,235.6 216.0,234.9 216.5,234.2 217.0,233.6 217.5,232.9 218.0,232.2 218.5,231.6 219.0,231.3 219.5,231.2 220.0,231.2 220.5,231.1 221.0,231.0 221.5,231.0 222.0,230.9 222.5,230.9 223.0,230.8 223.5,230.8 224.0,230.7 224.5,230.6 225.0,230.6 225.5,230.7 226.0,230.9 226.5,231.0 227.0,231.1 227.5,231.2 228.0,231.4 228.5,231.5 229.0,231.6 229.5,231.7 230.0,231.8 230.5,232.0 231.0,232.1 231.5,232.2 232.0,232.3 232.5,232.5 233.0,232.6 233.5,232.7 234.0,232.8 234.5,232.9 235.0,233.1 235.5,233.2 236.0,233.3 236.5,233.4 237.0,233.6 237.5,233.6 238.0,233.6 238.5,233.6 239.0,233.6 239.5,233.7 240.0,233.7 240.5,233.7 241.0,233.7 241.5,233.7 242.0,233.7 242.5,233.7 243.0,233.8 243.5,233.8 244.0,233.8 244.5,233.8 245.0,234.1 245.5,234.4 246.0,234.7 246.5,235.1 247.0,235.4 247.5,235.8 248.0,236.1 248.5,236.4 249.0,236.8 249.5,237.1 250.0,237.4 250.5,237.8 251.0,238.1 251.5,238.5 252.0,238.8 252.5,239.0 253.0,239.1 253.5,239.3 254.0,239.5 254.5,239.7 255.0,239.8 255.5,240.0 256.0,240.2 256.5,240.3 257.0,240.5 257.5,240.4 258.0,240.3 258.5,240.3 259.0,240.2 259.5,240.1 260.0,240.0 260.5,239.9 261.0,239.8 261.5,239.8 262.0,239.7 262.5,239.8 263.0,239.9 263.5,240.0 264.0,240.0 264.5,240.1 265.0,240.2 265.5,240.3 266.0,240.4 266.5,240.4 267.0,240.5 267.5,240.6 268.0,240.7 268.5,240.7 269.0,240.8 269.5,240.9 270.0,240.9 270.5,241.0 271.0,241.1 271.5,241.2 272.0,241.3 272.5,241.6 273.0,241.8 273.5,242.1 274.0,242.3 274.5,242.6 275.0,242.9 275.5,243.1 276.0,243.4 276.5,243.7 277.0,243.9 277.5,244.2 278.0,244.4 278.5,244.7 279.0,245.5 279.5,246.7 280.0,247.9 280.5,249.1 281.0,250.3 281.5,251.5 282.0,252.7 282.5,253.9 283.0,255.0 283.5,256.2 284.0,257.4 284.5,258.6 285.0,259.8 285.5,261.0 285.5,260.2 285.0,260.2 284.5,260.2 284.0,260.2 283.5,260.2 283.0,260.2 282.5,260.2 282.0,260.2 281.5,260.2 281.0,260.2 280.5,260.2 280.0,260.2 279.5,260.2 279.0,260.2 278.5,260.2 278.0,260.2 277.5,260.2 277.0,260.2 276.5,260.2 276.0,260.2 275.5,260.2 275.0,260.2 274.5,260.2 274.0,260.2 273.5,260.2 273.0,260.2 272.5,260.2 272.0,260.2 271.5,260.2 271.0,260.2 270.5,260.2 270.0,260.2 269.5,260.2 269.0,260.2 268.5,260.2 268.0,260.2 267.5,260.2 267.0,260.2 266.5,260.2 266.0,260.2 265.5,260.2 265.0,260.2 264.5,260.2 264.0,260.2 263.5,260.2 263.0,260.2 262.5,260.2 262.0,260.2 261.5,260.2 261.0,260.2 260.5,260.2 260.0,260.2 259.5,260.2 259.0,260.2 258.5,260.2 258.0,260.2 257.5,260.2 257.0,260.2 256.5,260.2 256.0,260.2 255.5,260.2 255.0,260.2 254.5,260.2 254.0,260.2 253.5,260.2 253.0,260.2 252.5,260.2 252.0,260.2 251.5,260.2 251.0,260.2 250.5,260.2 250.0,260.2 249.5,260.2 249.0,260.2 248.5,260.2 248.0,260.2 247.5,260.2 247.0,260.2 246.5,260.2 246.0,260.2 245.5,260.2 245.0,260.2 244.5,260.2 244.0,260.2 243.5,260.2 243.0,260.2 242.5,260.2 242.0,260.2 241.5,260.2 241.0,260.2 240.5,260.2 240.0,260.2 239.5,260.2 239.0,260.2 238.5,260.2 238.0,260.2 237.5,260.2 237.0,260.2 236.5,260.2 236.0,260.2 235.5,260.2 235.0,260.2 234.5,260.2 234.0,260.2 233.5,260.2 233.0,260.2 232.5,260.2 232.0,260.2 231.5,260.2 231.0,260.2 230.5,260.2 230.0,260.2 229.5,260.2 229.0,260.2 228.5,260.2 228.0,260.2 227.5,260.2 227.0,260.2 226.5,260.2 226.0,260.2 225.5,260.2 225.0,260.2 224.5,260.2 224.0,260.2 223.5,260.2 223.0,260.2 222.5,260.2 222.0,260.2 221.5,260.2 221.0,260.2 220.5,260.2 220.0,260.2 219.5,260.2 219.0,260.2 218.5,260.2 218.0,260.2 217.5,260.2 217.0,260.2 216.5,260.2 216.0,260.2 215.5,260.2 215.0,260.2 214.5,260.2 214.0,260.2 213.5,260.2 213.0,260.2 212.5,260.2 212.0,260.2 211.5,260.2 211.0,260.2 210.5,260.2 210.0,260.2 209.5,260.2 209.0,260.2 208.5,260.2 208.0,260.2 207.5,260.2 207.0,260.2 206.5,260.2 206.0,260.2 205.5,260.2 205.0,260.3 204.5,260.8 204.0,261.3 203.5,261.8 203.0,262.3 202.5,262.8 202.0,263.3 201.5,263.8 201.0,264.3 200.5,264.8 200.0,265.2 199.5,265.3 199.0,265.3 198.5,265.4 198.0,265.4 197.5,265.5 197.0,265.6 196.5,265.6 196.0,265.7 195.5,265.7 195.0,265.8 194.5,265.8 194.0,265.9 193.5,265.8 193.0,265.7 192.5,265.5 192.0,265.4 191.5,265.3 191.0,265.2 190.5,265.1 190.0,264.9 189.5,264.8 189.0,264.7 188.5,264.6 188.0,264.4" fill="rgba(76,175,80,0.10)"/>
<polygon points="285.5,261.0 286.0,262.1 286.5,263.3 287.0,264.5 287.5,265.7 288.0,266.4 288.5,266.5 289.0,266.5 289.5,266.6 290.0,266.6 290.5,266.7 291.0,266.7 291.5,266.8 292.0,266.8 292.5,266.9 293.0,267.4 293.5,267.8 294.0,268.3 294.5,268.7 295.0,269.2 295.5,269.6 296.0,270.1 296.5,270.1 297.0,270.2 297.5,270.2 298.0,270.3 298.5,270.3 299.0,270.4 299.5,270.4 300.0,270.5 300.5,270.5 301.0,270.6 301.5,270.6 302.0,270.7 302.5,270.7 303.0,270.8 303.5,270.8 304.0,270.8 304.5,270.9 305.0,271.4 305.5,272.0 306.0,272.7 306.5,273.3 307.0,274.0 307.5,274.6 308.0,275.2 308.5,275.9 309.0,276.5 309.5,277.1 310.0,277.8 310.5,278.4 311.0,278.9 311.5,279.2 312.0,279.4 312.5,279.7 313.0,280.0 313.5,280.3 314.0,280.5 314.5,280.8 315.0,276.0 315.5,271.1 316.0,266.3 316.5,261.5 317.0,260.4 317.5,259.3 318.0,258.2 318.5,257.5 319.0,257.1 319.5,256.7 320.0,256.2 320.5,255.8 321.0,255.4 321.5,254.9 322.0,254.6 322.0,254.6 321.5,254.7 321.0,254.7 320.5,254.8 320.0,254.9 319.5,254.9 319.0,255.0 318.5,255.1 318.0,255.1 317.5,255.2 317.0,255.3 316.5,256.1 316.0,257.1 315.5,258.2 315.0,259.2 314.5,260.2 314.0,260.4 313.5,260.7 313.0,260.9 312.5,261.2 312.0,261.4 311.5,261.7 311.0,261.9 310.5,261.9 310.0,261.6 309.5,261.4 309.0,261.1 308.5,260.9 308.0,260.6 307.5,260.4 307.0,260.2 306.5,260.2 306.0,260.2 305.5,260.2 305.0,260.2 304.5,260.2 304.0,260.2 303.5,260.2 303.0,260.2 302.5,260.2 302.0,260.2 301.5,260.2 301.0,260.2 300.5,260.2 300.0,260.2 299.5,260.2 299.0,260.2 298.5,260.2 298.0,260.2 297.5,260.2 297.0,260.2 296.5,260.2 296.0,260.2 295.5,260.2 295.0,260.2 294.5,260.2 294.0,260.2 293.5,260.2 293.0,260.2 292.5,260.2 292.0,260.2 291.5,260.2 291.0,260.2 290.5,260.2 290.0,260.2 289.5,260.2 289.0,260.2 288.5,260.2 288.0,260.2 287.5,260.2 287.0,260.2 286.5,260.2 286.0,260.2 285.5,260.2" fill="rgba(255,82,82,0.10)"/>
<polygon points="322.0,254.6 322.5,254.6 323.0,254.6 323.5,254.6 324.0,254.6 324.5,254.6 325.0,254.6 325.5,254.6 326.0,254.6 326.5,254.6 327.0,254.6 327.5,254.6 328.0,254.6 328.5,254.6 329.0,254.6 329.5,254.6 330.0,254.6 330.5,254.6 331.0,254.6 331.5,254.6 332.0,254.6 332.5,254.6 333.0,254.6 333.5,254.6 334.0,254.6 334.5,254.6 335.0,254.6 335.5,254.6 336.0,254.6 336.5,254.6 337.0,254.6 337.5,254.6 338.0,254.6 338.5,254.6 339.0,254.6 339.5,254.6 340.0,254.6 340.5,254.6 341.0,254.6 341.5,254.6 342.0,254.6 342.5,254.6 343.0,254.6 343.5,254.6 344.0,254.6 344.5,253.8 345.0,252.7 345.5,251.7 346.0,250.6 346.5,249.6 347.0,248.6 347.5,247.5 348.0,246.5 348.5,245.4 349.0,244.4 349.5,242.6 350.0,240.7 350.5,238.7 351.0,236.8 351.5,234.8 352.0,232.8 352.5,230.9 353.0,228.9 353.5,227.0 354.0,225.0 354.5,223.5 355.0,222.0 355.5,220.5 356.0,219.0 356.5,217.5 357.0,216.9 357.5,216.4 358.0,215.8 358.5,215.3 359.0,214.7 359.5,214.2 360.0,213.6 360.5,213.1 361.0,212.5 361.5,212.1 362.0,212.1 362.5,212.1 363.0,212.1 363.5,212.1 364.0,212.1 364.5,212.0 365.0,212.0 365.5,212.0 366.0,212.0 366.5,212.0 367.0,212.0 367.5,212.0 368.0,212.0 368.5,212.0 369.0,212.0 369.5,212.0 370.0,211.9 370.5,211.9 371.0,211.9 371.5,211.9 372.0,211.9 372.5,211.9 373.0,211.9 373.5,211.9 374.0,211.9 374.5,211.9 375.0,211.8 375.5,211.8 376.0,211.8 376.5,211.8 377.0,211.8 377.5,211.8 378.0,211.8 378.5,211.8 379.0,211.8 379.5,211.8 380.0,211.8 380.5,211.7 381.0,211.7 381.5,211.7 382.0,211.7 382.5,211.7 383.0,211.7 383.5,211.7 384.0,211.7 384.5,211.7 385.0,211.7 385.5,211.7 386.0,211.6 386.5,211.6 387.0,211.6 387.5,211.6 388.0,211.6 388.5,211.6 389.0,206.2 389.5,199.4 390.0,192.6 390.5,185.8 391.0,179.1 391.5,173.1 392.0,168.5 392.5,163.9 393.0,160.9 393.5,160.5 394.0,160.0 394.5,159.6 395.0,159.2 395.5,158.7 396.0,158.3 396.5,157.9 397.0,157.4 397.5,157.0 398.0,156.5 398.5,156.1 399.0,156.1 399.5,156.1 400.0,156.1 400.5,156.1 401.0,156.1 401.5,156.1 402.0,156.1 402.5,156.1 403.0,156.1 403.5,156.1 404.0,156.1 404.5,156.1 405.0,156.0 405.5,155.8 406.0,155.6 406.5,155.4 407.0,155.2 407.5,155.0 408.0,154.8 408.5,154.6 409.0,154.4 409.5,154.2 410.0,154.0 410.5,153.8 411.0,153.7 411.5,153.6 412.0,153.6 412.5,153.6 413.0,153.5 413.5,153.5 414.0,153.5 414.5,153.4 415.0,153.4 415.5,153.4 416.0,153.3 416.5,153.3 417.0,153.3 417.5,153.2 418.0,152.6 418.5,151.3 419.0,149.9 419.5,148.5 420.0,147.1 420.5,145.7 421.0,144.4 421.5,142.6 422.0,140.7 422.5,138.8 423.0,136.8 423.5,134.9 424.0,132.9 424.5,130.6 425.0,126.7 425.5,122.7 426.0,118.8 426.5,114.9 427.0,111.6 427.5,111.0 428.0,110.4 428.5,109.8 429.0,109.1 429.5,108.5 430.0,107.9 430.5,107.3 431.0,107.3 431.5,107.4 432.0,107.5 432.5,107.6 433.0,107.7 433.5,107.8 434.0,107.9 434.5,108.0 435.0,108.1 435.5,108.2 436.0,108.3 436.5,108.4 437.0,108.5 437.5,108.6 438.0,108.7 438.5,108.8 439.0,108.9 439.5,109.0 440.0,109.1 440.5,109.2 441.0,109.5 441.5,109.9 442.0,110.2 442.5,110.6 443.0,110.9 443.5,111.3 444.0,111.6 444.5,111.9 445.0,112.3 445.5,112.6 446.0,113.1 446.5,113.9 447.0,114.7 447.5,115.5 448.0,116.3 448.5,117.1 449.0,117.9 449.5,118.7 450.0,119.5 450.5,120.3 451.0,121.1 451.5,121.9 452.0,122.7 452.5,123.5 453.0,124.3 453.5,124.9 454.0,125.5 454.5,126.2 455.0,126.8 455.5,127.4 456.0,128.1 456.5,128.7 457.0,129.4 457.5,130.0 458.0,130.6 458.5,131.3 459.0,131.9 459.5,132.0 460.0,132.1 460.5,132.3 461.0,132.4 461.5,132.5 462.0,132.6 462.5,132.7 463.0,132.9 463.5,133.0 464.0,133.1 464.5,133.2 465.0,133.4 465.5,133.3 466.0,133.1 466.5,133.0 467.0,132.8 467.5,132.7 468.0,132.5 468.5,132.3 469.0,132.2 469.5,132.0 470.0,131.9 470.5,131.7 471.0,131.5 471.5,131.5 472.0,131.7 472.5,132.0 473.0,132.2 473.5,132.5 474.0,132.7 474.5,133.0 475.0,133.2 475.5,133.4 476.0,133.7 476.5,133.9 477.0,134.2 477.5,134.4 478.0,134.7 478.5,134.9 479.0,135.5 479.5,136.4 480.0,137.3 480.5,138.2 481.0,139.1 481.5,140.0 482.0,140.9 482.5,141.8 483.0,142.7 483.5,143.6 484.0,144.5 484.5,145.4 485.0,146.3 485.5,147.1 486.0,147.9 486.5,148.7 487.0,149.5 487.5,150.3 488.0,151.1 488.5,151.9 489.0,152.7 489.5,153.5 490.0,154.3 490.5,155.1 491.0,155.9 491.5,156.3 492.0,156.5 492.5,156.8 493.0,157.0 493.5,157.3 494.0,157.5 494.5,157.8 495.0,158.0 495.5,158.3 496.0,158.5 496.5,158.7 497.0,158.8 497.5,158.9 498.0,159.1 498.5,159.2 499.0,159.3 499.5,159.4 500.0,159.6 500.5,159.7 501.0,159.8 501.5,162.5 502.0,165.2 502.5,167.8 503.0,170.5 503.5,173.2 504.0,175.9 504.5,178.5 505.0,179.9 505.5,180.4 506.0,180.9 506.5,181.4 507.0,181.9 507.5,182.4 508.0,182.9 508.5,183.4 509.0,183.9 509.5,184.4 510.0,184.9 510.5,185.4 511.0,185.8 511.5,185.9 512.0,186.0 512.5,186.1 513.0,186.2 513.5,186.3 514.0,186.4 514.5,186.4 515.0,186.5 515.5,186.6 516.0,186.7 516.5,186.8 517.0,186.9 517.5,187.0 518.0,187.1 518.5,187.2 519.0,187.3 519.5,187.3 520.0,187.4 520.5,187.5 521.0,187.6 521.5,187.7 522.0,187.8 522.5,188.2 523.0,188.6 523.5,188.9 524.0,189.3 524.5,189.7 525.0,190.1 525.5,190.5 526.0,190.8 526.5,191.2 527.0,191.6 527.5,191.7 528.0,191.7 528.5,191.8 529.0,191.9 529.5,191.9 530.0,192.0 530.5,192.1 531.0,192.1 531.5,192.2 532.0,192.3 532.5,193.6 533.0,195.8 533.0,192.2 532.5,195.1 532.0,196.9 531.5,196.9 531.0,196.9 530.5,196.9 530.0,196.9 529.5,196.9 529.0,196.9 528.5,196.9 528.0,196.9 527.5,196.9 527.0,196.9 526.5,196.9 526.0,196.9 525.5,196.9 525.0,196.9 524.5,196.9 524.0,196.9 523.5,196.9 523.0,196.9 522.5,196.9 522.0,196.9 521.5,196.9 521.0,196.9 520.5,196.9 520.0,196.9 519.5,196.9 519.0,196.9 518.5,196.9 518.0,196.9 517.5,196.9 517.0,196.9 516.5,196.9 516.0,196.9 515.5,196.9 515.0,196.9 514.5,196.9 514.0,196.9 513.5,196.9 513.0,196.9 512.5,196.9 512.0,196.9 511.5,196.9 511.0,196.9 510.5,196.9 510.0,196.9 509.5,196.9 509.0,196.9 508.5,196.9 508.0,196.9 507.5,196.9 507.0,196.9 506.5,196.9 506.0,196.9 505.5,196.9 505.0,196.9 504.5,196.9 504.0,196.9 503.5,196.9 503.0,196.9 502.5,196.9 502.0,196.9 501.5,196.9 501.0,196.9 500.5,196.9 500.0,196.9 499.5,196.9 499.0,196.9 498.5,196.9 498.0,196.9 497.5,196.9 497.0,196.9 496.5,196.9 496.0,196.9 495.5,196.9 495.0,196.9 494.5,196.9 494.0,196.9 493.5,196.9 493.0,196.9 492.5,196.9 492.0,196.9 491.5,196.9 491.0,196.9 490.5,196.9 490.0,196.9 489.5,196.9 489.0,196.9 488.5,196.9 488.0,196.9 487.5,196.9 487.0,196.9 486.5,196.9 486.0,196.9 485.5,196.9 485.0,196.9 484.5,196.9 484.0,196.9 483.5,196.9 483.0,196.9 482.5,196.9 482.0,196.9 481.5,196.9 481.0,196.9 480.5,196.9 480.0,196.9 479.5,196.9 479.0,196.9 478.5,196.9 478.0,196.9 477.5,196.9 477.0,196.9 476.5,196.9 476.0,196.9 475.5,196.9 475.0,196.9 474.5,196.9 474.0,196.9 473.5,196.9 473.0,196.9 472.5,196.9 472.0,196.9 471.5,196.9 471.0,196.9 470.5,196.9 470.0,196.9 469.5,196.9 469.0,196.9 468.5,196.9 468.0,196.9 467.5,196.9 467.0,196.9 466.5,196.9 466.0,196.9 465.5,196.9 465.0,196.9 464.5,196.9 464.0,196.9 463.5,196.9 463.0,196.9 462.5,196.9 462.0,196.9 461.5,196.9 461.0,196.9 460.5,196.9 460.0,196.9 459.5,196.9 459.0,196.9 458.5,196.9 458.0,196.9 457.5,196.9 457.0,196.9 456.5,196.9 456.0,196.9 455.5,196.9 455.0,196.9 454.5,196.9 454.0,196.9 453.5,196.9 453.0,196.9 452.5,196.9 452.0,196.9 451.5,196.9 451.0,196.9 450.5,196.9 450.0,196.9 449.5,196.9 449.0,196.9 448.5,196.9 448.0,196.9 447.5,196.9 447.0,196.9 446.5,196.9 446.0,196.9 445.5,196.9 445.0,196.9 444.5,196.9 444.0,196.9 443.5,196.9 443.0,196.9 442.5,196.9 442.0,196.9 441.5,196.9 441.0,196.9 440.5,196.9 440.0,196.9 439.5,196.9 439.0,196.9 438.5,196.9 438.0,196.9 437.5,196.9 437.0,196.9 436.5,196.9 436.0,196.9 435.5,196.9 435.0,196.9 434.5,196.9 434.0,196.9 433.5,196.9 433.0,196.9 432.5,196.9 432.0,196.9 431.5,196.9 431.0,196.9 430.5,196.9 430.0,196.9 429.5,196.9 429.0,196.9 428.5,196.9 428.0,196.9 427.5,196.9 427.0,196.9 426.5,196.9 426.0,196.9 425.5,196.9 425.0,196.9 424.5,196.9 424.0,196.9 423.5,196.9 423.0,196.9 422.5,196.9 422.0,196.9 421.5,196.9 421.0,196.9 420.5,196.9 420.0,196.9 419.5,196.9 419.0,196.9 418.5,196.9 418.0,196.9 417.5,196.9 417.0,196.9 416.5,196.9 416.0,196.9 415.5,196.9 415.0,196.9 414.5,196.9 414.0,196.9 413.5,196.9 413.0,196.9 412.5,196.9 412.0,196.9 411.5,196.9 411.0,196.9 410.5,196.9 410.0,196.9 409.5,196.9 409.0,196.9 408.5,196.9 408.0,196.9 407.5,196.9 407.0,196.9 406.5,196.9 406.0,196.9 405.5,196.9 405.0,196.9 404.5,196.9 404.0,196.9 403.5,196.9 403.0,196.9 402.5,196.9 402.0,196.9 401.5,196.9 401.0,196.9 400.5,196.9 400.0,196.9 399.5,196.9 399.0,196.9 398.5,196.9 398.0,196.9 397.5,196.9 397.0,196.9 396.5,196.9 396.0,196.9 395.5,196.9 395.0,196.9 394.5,196.9 394.0,197.0 393.5,197.0 393.0,197.0 392.5,197.1 392.0,197.1 391.5,197.1 391.0,197.2 390.5,197.2 390.0,205.6 389.5,219.6 389.0,233.7 388.5,244.9 388.0,244.9 387.5,244.9 387.0,244.9 386.5,244.9 386.0,244.9 385.5,245.0 385.0,245.0 384.5,245.0 384.0,245.0 383.5,245.0 383.0,245.0 382.5,245.0 382.0,245.0 381.5,245.0 381.0,245.0 380.5,245.0 380.0,245.1 379.5,245.1 379.0,245.1 378.5,245.1 378.0,245.1 377.5,245.1 377.0,245.1 376.5,245.1 376.0,245.1 375.5,245.1 375.0,245.2 374.5,245.2 374.0,245.2 373.5,245.2 373.0,245.2 372.5,245.2 372.0,245.2 371.5,245.2 371.0,245.2 370.5,245.2 370.0,245.2 369.5,245.3 369.0,245.3 368.5,245.3 368.0,245.3 367.5,245.3 367.0,245.3 366.5,245.3 366.0,245.3 365.5,245.3 365.0,245.3 364.5,245.3 364.0,245.4 363.5,245.4 363.0,245.4 362.5,245.4 362.0,245.4 361.5,245.4 361.0,245.9 360.5,246.5 360.0,247.1 359.5,247.8 359.0,248.4 358.5,249.0 358.0,249.6 357.5,250.2 357.0,250.9 356.5,251.5 356.0,252.1 355.5,252.7 355.0,253.4 354.5,254.0 354.0,254.6 353.5,254.6 353.0,254.6 352.5,254.6 352.0,254.6 351.5,254.6 351.0,254.6 350.5,254.6 350.0,254.6 349.5,254.6 349.0,254.6 348.5,254.6 348.0,254.6 347.5,254.6 347.0,254.6 346.5,254.6 346.0,254.6 345.5,254.6 345.0,254.6 344.5,254.6 344.0,254.6 343.5,254.6 343.0,254.6 342.5,254.6 342.0,254.6 341.5,254.6 341.0,254.6 340.5,254.6 340.0,254.6 339.5,254.6 339.0,254.6 338.5,254.6 338.0,254.6 337.5,254.6 337.0,254.6 336.5,254.6 336.0,254.6 335.5,254.6 335.0,254.6 334.5,254.6 334.0,254.6 333.5,254.6 333.0,254.6 332.5,254.6 332.0,254.6 331.5,254.6 331.0,254.6 330.5,254.6 330.0,254.6 329.5,254.6 329.0,254.6 328.5,254.6 328.0,254.6 327.5,254.6 327.0,254.6 326.5,254.6 326.0,254.6 325.5,254.6 325.0,254.6 324.5,254.6 324.0,254.6 323.5,254.6 323.0,254.6 322.5,254.6 322.0,254.6" fill="rgba(76,175,80,0.10)"/>
<polygon points="533.0,195.8 533.5,198.0 534.0,200.1 534.5,202.3 535.0,204.5 535.5,206.7 536.0,208.9 536.5,210.7 537.0,212.5 537.5,214.3 538.0,216.1 538.5,217.9 539.0,219.6 539.5,221.4 540.0,222.6 540.5,222.7 541.0,222.9 541.5,223.1 542.0,223.3 542.5,223.4 543.0,223.6 543.5,223.8 544.0,224.0 544.5,224.1 545.0,224.5 545.5,225.0 546.0,225.5 546.5,226.0 547.0,226.4 547.5,226.9 548.0,227.4 548.5,227.9 549.0,228.4 549.5,228.9 550.0,229.4 550.5,229.9 551.0,230.4 551.5,230.8 552.0,231.3 552.5,231.8 553.0,232.3 553.5,232.8 554.0,233.0 554.5,233.2 555.0,233.4 555.5,233.6 556.0,233.8 556.5,234.0 557.0,234.1 557.5,234.3 558.0,235.1 558.5,236.4 559.0,237.6 559.5,238.9 560.0,240.1 560.5,241.4 561.0,242.6 561.5,243.9 562.0,245.1 562.5,245.6 563.0,246.2 563.5,246.7 564.0,247.3 564.5,247.8 565.0,248.3 565.5,248.9 566.0,249.3 566.5,249.3 567.0,249.4 567.5,249.4 568.0,249.4 568.5,249.5 569.0,249.5 569.5,249.5 570.0,249.6 570.5,249.6 571.0,249.8 571.5,250.0 572.0,250.3 572.5,250.5 573.0,250.8 573.5,251.1 574.0,251.3 574.5,251.6 575.0,251.8 575.5,251.7 576.0,251.7 576.5,251.6 577.0,251.6 577.5,251.5 578.0,251.4 578.5,251.4 579.0,251.3 579.5,251.6 580.0,252.3 580.5,253.1 581.0,253.8 581.5,254.6 582.0,255.3 582.5,256.1 583.0,256.8 583.5,257.6 584.0,258.1 584.5,258.5 585.0,258.8 585.5,259.1 586.0,259.4 586.5,259.7 587.0,260.1 587.5,260.4 588.0,260.7 588.5,260.7 589.0,260.7 589.5,260.7 590.0,260.7 590.5,260.7 591.0,260.7 591.5,260.7 592.0,260.7 592.5,260.7 593.0,260.8 593.5,261.4 594.0,262.0 594.5,262.6 595.0,263.1 595.5,263.7 596.0,264.3 596.5,264.9 597.0,265.5 597.5,268.2 598.0,271.4 598.5,274.6 599.0,277.9 599.5,281.1 600.0,284.3 600.5,287.6 601.0,290.8 601.5,292.4 602.0,294.0 602.5,295.6 603.0,297.2 603.5,298.9 604.0,300.5 604.5,302.1 605.0,303.7 605.5,305.3 606.0,306.9 606.5,307.5 607.0,308.1 607.5,308.6 608.0,309.2 608.5,309.8 609.0,310.4 609.5,310.9 610.0,311.5 610.5,312.1 611.0,312.7 611.5,313.2 612.0,313.8 612.5,314.4 613.0,315.0 613.5,315.5 614.0,316.5 614.5,319.1 615.0,321.7 615.5,324.3 616.0,326.9 616.5,329.4 617.0,331.6 617.5,333.2 618.0,334.8 618.5,336.4 619.0,338.0 619.5,339.6 620.0,340.2 620.5,340.6 621.0,341.0 621.5,341.4 622.0,341.8 622.5,342.2 623.0,342.6 623.5,343.0 624.0,343.4 624.5,343.8 625.0,344.2 625.5,344.6 626.0,345.1 626.5,345.5 627.0,345.9 627.5,346.3 628.0,346.7 628.5,347.1 629.0,347.5 629.5,347.9 630.0,348.3 630.5,348.7 631.0,349.1 631.5,349.5 632.0,350.0 632.5,350.8 633.0,351.7 633.5,352.6 634.0,353.4 634.5,354.3 635.0,355.1 635.5,356.0 636.0,356.9 636.5,357.7 637.0,358.6 637.5,359.6 638.0,360.6 638.5,361.6 639.0,362.6 639.5,363.7 640.0,364.7 640.5,365.7 641.0,366.7 641.5,367.7 642.0,368.4 642.5,368.8 643.0,369.1 643.5,369.5 644.0,369.8 644.5,370.2 645.0,370.5 645.5,370.9 646.0,371.2 646.5,371.5 647.0,371.9 647.5,372.2 648.0,372.6 648.5,372.9 649.0,373.3 649.5,373.6 650.0,374.0 650.5,374.3 651.0,374.2 651.5,374.1 652.0,374.1 652.5,374.0 653.0,373.9 653.5,373.8 654.0,373.7 654.5,373.7 655.0,373.6 655.5,373.6 656.0,373.6 656.5,373.6 657.0,373.6 657.5,373.6 658.0,373.6 658.5,373.6 659.0,373.6 659.5,373.6 660.0,373.6 660.5,373.6 661.0,373.6 661.5,373.9 662.0,374.2 662.5,374.6 663.0,374.9 663.5,375.3 664.0,375.6 664.5,376.0 665.0,376.3 665.5,376.7 666.0,377.0 666.5,378.2 667.0,379.7 667.5,381.1 668.0,382.6 668.5,384.0 669.0,386.6 669.5,389.2 670.0,391.7 670.5,394.3 671.0,396.9 671.5,397.0 672.0,397.0 672.5,397.1 673.0,397.1 673.5,397.2 674.0,397.2 674.5,397.3 675.0,397.4 675.5,397.4 676.0,397.5 676.5,397.5 677.0,397.6 677.5,397.7 678.0,398.0 678.5,398.2 679.0,398.5 679.5,398.7 680.0,399.0 680.5,399.2 681.0,399.4 681.5,399.7 682.0,399.9 682.5,400.2 683.0,400.4 683.5,400.6 684.0,400.4 684.5,400.3 685.0,400.2 685.5,400.0 686.0,399.9 686.5,399.8 687.0,399.6 687.5,399.8 688.0,400.0 688.5,400.3 689.0,400.5 689.5,400.7 690.0,401.0 690.5,401.2 691.0,401.5 691.5,401.7 692.0,401.9 692.5,402.2 693.0,402.4 693.5,402.5 694.0,402.5 694.5,402.6 695.0,402.6 695.5,402.6 696.0,402.7 696.5,402.7 697.0,402.7 697.5,402.7 698.0,402.8 698.5,402.8 699.0,402.8 699.5,402.9 700.0,402.9 700.5,402.9 701.0,402.9 701.5,403.0 702.0,403.0 702.5,403.1 703.0,403.2 703.5,403.3 704.0,403.5 704.5,403.6 705.0,403.7 705.5,403.8 706.0,403.5 706.5,403.2 707.0,402.9 707.5,402.5 708.0,402.2 708.5,401.8 709.0,401.5 709.5,401.6 710.0,402.4 710.5,403.2 711.0,404.0 711.5,404.8 712.0,405.6 712.5,406.4 713.0,407.2 713.5,408.0 714.0,408.8 714.5,409.6 715.0,410.4 715.5,411.2 716.0,411.4 716.5,411.5 717.0,411.7 717.5,411.8 718.0,412.0 718.5,412.2 719.0,412.3 719.5,412.7 720.0,413.3 720.5,413.8 721.0,414.4 721.5,415.0 722.0,415.5 722.5,416.1 723.0,416.6 723.5,417.2 724.0,417.7 724.5,418.3 725.0,418.9 725.5,419.3 726.0,419.6 726.5,419.8 727.0,420.1 727.5,420.3 728.0,420.6 728.5,420.8 729.0,421.1 729.5,421.3 730.0,421.6 730.5,421.8 731.0,422.1 731.5,422.3 732.0,422.7 732.5,423.1 733.0,423.5 733.5,423.9 734.0,424.3 734.5,424.7 735.0,425.2 735.5,425.6 736.0,426.0 736.5,426.4 737.0,426.8 737.5,427.2 738.0,427.6 738.5,428.0 739.0,428.4 739.5,428.8 740.0,429.2 740.5,429.6 741.0,430.1 741.5,430.5 742.0,430.9 742.5,431.3 743.0,431.7 743.5,432.1 744.0,432.5 744.5,432.9 745.0,433.3 745.5,433.4 746.0,433.4 746.5,433.4 747.0,433.4 747.5,433.4 748.0,433.4 748.5,433.4 749.0,433.4 749.5,433.4 750.0,433.4 750.5,433.4 751.0,433.4 751.5,433.4 752.0,433.4 752.5,433.4 753.0,433.4 753.5,433.4 754.0,433.4 754.5,433.4 755.0,433.4 755.5,433.4 756.0,433.4 756.5,433.4 757.0,433.4 757.5,433.4 758.0,433.7 758.5,434.0 759.0,434.3 759.5,434.6 760.0,434.9 760.5,435.2 761.0,435.5 761.5,435.8 762.0,436.2 762.5,436.4 763.0,436.6 763.5,436.8 764.0,436.9 764.5,437.1 765.0,437.2 765.5,437.4 766.0,437.6 766.5,437.6 767.0,437.6 767.5,437.6 768.0,437.6 768.5,437.6 769.0,437.6 769.5,437.6 770.0,437.6 770.5,437.6 771.0,437.6 771.5,437.6 772.0,437.6 772.5,437.6 773.0,437.6 773.5,437.6 774.0,437.6 774.5,437.6 775.0,437.6 775.5,437.6 776.0,437.6 776.5,437.3 777.0,437.0 777.5,436.7 778.0,436.5 778.5,436.2 779.0,435.9 779.5,435.6 780.0,435.3 780.5,435.0 781.0,434.8 781.5,434.5 782.0,434.2 782.5,433.9 783.0,433.6 783.5,433.4 784.0,433.2 784.5,433.1 785.0,433.0 785.5,432.8 786.0,432.7 786.5,432.5 787.0,432.4 787.5,432.3 788.0,432.1 788.5,432.0 789.0,431.9 789.5,431.7 790.0,431.7 790.5,431.8 791.0,431.8 791.5,431.8 792.0,431.9 792.5,431.9 793.0,431.9 793.5,432.0 794.0,432.0 794.5,432.0 795.0,432.1 795.5,432.1 796.0,432.1 796.5,432.2 797.0,432.2 797.5,432.5 798.0,432.8 798.5,433.1 799.0,433.3 799.5,433.6 800.0,433.9 800.5,434.2 801.0,434.5 801.5,434.8 802.0,435.0 802.5,435.3 803.0,435.6 803.5,435.9 804.0,436.2 804.5,436.5 805.0,436.7 805.5,437.0 806.0,437.2 806.5,437.5 807.0,437.7 807.5,438.0 808.0,438.2 808.5,438.5 809.0,438.7 809.5,439.0 810.0,439.2 810.5,439.5 811.0,439.7 811.5,440.0 812.0,440.2 812.5,440.5 813.0,440.7 813.5,441.1 814.0,441.4 814.5,441.7 815.0,442.0 815.5,442.3 816.0,442.6 816.5,442.9 817.0,443.2 817.5,443.6 818.0,443.9 818.5,444.2 819.0,444.5 819.5,444.8 820.0,445.1 820.5,445.4 821.0,445.7 821.5,446.1 822.0,446.4 822.5,446.7 823.0,447.0 823.5,447.2 824.0,447.4 824.5,447.6 825.0,447.7 825.5,447.9 826.0,448.1 826.5,448.3 827.0,448.5 827.5,448.7 828.0,448.9 828.5,449.0 829.0,449.2 829.5,449.4 830.0,449.6 830.5,449.8 831.0,450.0 831.5,450.2 832.0,450.4 832.5,450.8 833.0,451.1 833.5,451.4 834.0,451.7 834.5,452.0 835.0,452.3 835.5,452.6 836.0,452.9 836.5,453.2 837.0,453.5 837.5,453.8 838.0,454.1 838.5,454.5 839.0,454.8 839.5,455.1 840.0,455.4 840.5,455.7 841.0,456.0 841.5,456.3 842.0,456.3 842.5,456.3 843.0,456.4 843.5,456.4 844.0,456.4 844.5,456.4 845.0,456.4 845.5,456.4 846.0,456.5 846.5,456.5 847.0,456.5 847.5,456.5 848.0,456.5 848.5,456.6 849.0,456.6 849.5,456.6 850.0,456.6 850.5,456.6 851.0,456.6 851.5,456.7 852.0,456.7 852.5,456.7 853.0,456.7 853.5,456.7 854.0,456.8 854.5,456.8 855.0,456.8 855.5,456.9 856.0,457.1 856.5,457.2 857.0,457.4 857.5,457.5 858.0,457.7 858.5,457.8 859.0,458.0 859.5,458.1 860.0,458.3 860.5,458.4 861.0,458.6 861.5,458.7 862.0,458.9 862.5,459.0 863.0,459.2 863.5,459.3 864.0,459.4 864.5,459.4 865.0,459.4 865.5,459.4 866.0,459.4 866.5,459.4 867.0,459.5 867.5,459.5 868.0,459.5 868.5,459.5 869.0,459.5 869.5,459.5 870.0,459.5 870.5,459.5 871.0,459.5 871.5,459.5 872.0,459.5 872.5,459.5 873.0,459.6 873.5,459.6 874.0,459.6 874.5,459.6 875.0,459.6 875.5,459.6 876.0,459.6 876.5,460.2 877.0,460.9 877.5,461.6 878.0,462.3 878.5,463.1 879.0,463.8 879.5,464.5 880.0,465.2 880.5,465.9 881.0,466.6 881.5,467.2 882.0,467.8 882.5,468.3 883.0,468.9 883.5,469.5 884.0,470.1 884.5,470.6 885.0,471.4 885.5,473.1 886.0,474.7 886.5,476.4 887.0,478.0 887.5,479.7 888.0,481.3 888.5,483.0 889.0,483.2 889.5,483.4 890.0,483.6 890.5,483.8 891.0,484.0 891.5,484.2 892.0,484.4 892.5,484.6 893.0,484.8 893.5,485.0 894.0,485.2 894.5,485.4 895.0,485.6 895.5,485.8 896.0,486.0 896.5,486.2 897.0,486.4 897.5,486.5 898.0,486.5 898.5,486.6 899.0,486.6 899.5,486.6 900.0,486.7 900.5,486.7 901.0,486.7 901.5,486.8 902.0,486.8 902.5,486.8 903.0,486.9 903.5,486.9 904.0,486.9 904.5,487.0 905.0,487.0 905.5,487.0 906.0,487.0 906.5,487.1 907.0,487.1 907.5,487.1 908.0,487.2 908.5,487.3 909.0,487.6 909.5,487.9 910.0,488.2 910.5,488.5 911.0,488.8 911.5,489.0 912.0,489.3 912.5,489.6 913.0,489.9 913.5,490.2 914.0,490.5 914.5,490.8 915.0,491.6 915.5,492.5 916.0,493.4 916.5,494.2 917.0,495.1 917.5,496.0 918.0,496.9 918.5,497.7 919.0,498.6 919.5,499.5 920.0,499.7 920.5,499.9 921.0,500.1 921.5,500.3 922.0,500.5 922.5,500.7 923.0,500.9 923.5,501.1 924.0,501.3 924.5,501.5 925.0,501.7 925.5,501.9 926.0,502.1 926.5,502.2 927.0,502.4 927.5,502.5 928.0,502.6 928.5,502.8 929.0,502.9 929.5,503.0 930.0,503.2 930.5,503.3 931.0,503.4 931.5,503.6 932.0,503.7 932.5,503.8 933.0,504.0 933.5,504.1 934.0,504.2 934.5,504.4 935.0,504.5 935.5,504.6 936.0,504.8 936.5,504.9 937.0,505.0 937.5,505.1 938.0,505.2 938.5,505.3 939.0,505.3 939.5,505.4 940.0,505.5 940.5,505.6 941.0,505.6 941.5,505.7 942.0,505.8 942.5,505.9 943.0,505.9 943.5,506.0 944.0,506.1 944.5,506.2 945.0,506.2 945.5,506.3 946.0,506.4 946.5,506.5 947.0,506.7 947.5,507.1 948.0,507.5 948.5,507.9 949.0,508.3 949.5,508.7 950.0,509.1 950.5,509.8 951.0,511.8 951.5,513.8 952.0,515.8 952.5,517.8 953.0,519.8 953.5,521.8 954.0,523.8 954.5,524.3 955.0,524.4 955.5,524.6 956.0,524.7 956.5,524.8 957.0,525.0 957.5,525.1 958.0,525.3 958.5,525.4 959.0,525.5 959.5,525.7 960.0,525.8 960.5,525.9 961.0,526.1 961.5,526.2 962.0,526.4 962.5,526.7 963.0,526.9 963.5,527.2 964.0,527.4 964.5,527.7 965.0,527.9 965.5,528.1 966.0,528.4 966.5,528.6 967.0,528.9 967.5,529.1 968.0,529.2 968.5,529.3 969.0,529.4 969.5,529.5 970.0,529.6 970.5,529.7 971.0,529.7 971.5,529.8 972.0,529.9 972.5,530.0 973.0,530.1 973.5,530.1 974.0,530.2 974.5,530.3 975.0,530.4 975.5,530.8 976.0,531.3 976.5,531.8 977.0,532.3 977.5,532.8 978.0,533.3 978.5,533.8 979.0,534.3 979.5,534.8 980.0,535.3 980.5,535.8 981.0,536.3 981.5,536.8 982.0,537.3 982.5,537.8 983.0,538.5 983.5,539.3 984.0,540.0 984.5,540.8 985.0,541.5 985.5,542.2 986.0,543.0 986.5,543.7 987.0,544.5 987.5,545.2 988.0,545.9 988.5,546.7 989.0,547.4 989.5,548.2 990.0,548.9 990.5,549.3 991.0,549.6 991.5,550.0 992.0,550.4 992.5,550.7 993.0,551.1 993.5,551.5 994.0,551.9 994.5,552.2 995.0,552.6 995.5,553.0 996.0,553.3 996.5,553.5 997.0,553.7 997.5,553.9 998.0,554.0 998.5,554.2 999.0,554.4 999.5,554.5 1000.0,554.7 1000.5,554.9 1001.0,555.1 1001.5,555.2 1002.0,555.4 1002.5,555.6 1003.0,555.7 1003.5,555.9 1004.0,555.9 1004.5,555.9 1005.0,555.9 1005.5,555.9 1006.0,555.9 1006.5,555.9 1007.0,555.9 1007.5,555.9 1008.0,555.9 1008.5,555.9 1009.0,555.9 1009.5,555.9 1010.0,555.9 1010.5,555.9 1011.0,555.9 1011.5,555.9 1012.0,555.9 1012.5,555.9 1013.0,555.9 1013.5,555.9 1014.0,555.9 1014.5,555.9 1015.0,555.9 1015.5,555.9 1016.0,555.9 1016.5,555.9 1017.0,555.9 1017.5,555.9 1018.0,555.9 1018.5,555.9 1019.0,555.9 1019.5,555.9 1020.0,555.9 1020.5,555.9 1021.0,555.9 1021.5,555.9 1022.0,555.9 1022.5,555.9 1023.0,555.9 1023.5,556.1 1024.0,556.6 1024.5,557.2 1025.0,557.7 1025.5,558.2 1026.0,558.8 1026.5,559.3 1027.0,559.8 1027.5,560.4 1028.0,560.9 1028.5,561.5 1029.0,562.0 1029.5,562.5 1030.0,563.1 1030.5,563.6 1031.0,564.2 1031.5,565.0 1032.0,565.7 1032.5,566.5 1033.0,567.2 1033.5,568.0 1034.0,568.7 1034.5,569.5 1035.0,570.2 1035.5,571.0 1036.0,571.7 1036.5,572.5 1037.0,573.2 1037.5,574.0 1038.0,574.7 1038.5,575.5 1039.0,576.2 1039.5,577.0 1040.0,577.7 1040.5,578.5 1041.0,578.7 1041.5,578.8 1042.0,578.9 1042.5,579.0 1043.0,579.1 1043.5,579.3 1044.0,579.4 1044.5,579.5 1045.0,579.6 1045.5,579.7 1046.0,579.8 1046.5,579.9 1047.0,580.0 1047.5,580.2 1048.0,580.3 1048.5,580.4 1049.0,580.5 1049.5,580.6 1050.0,580.7 1050.5,580.8 1051.0,580.9 1051.5,581.1 1052.0,581.3 1052.5,581.7 1053.0,582.1 1053.5,582.5 1054.0,582.9 1054.5,583.3 1055.0,583.7 1055.5,584.1 1056.0,584.5 1056.5,584.9 1057.0,585.3 1057.5,585.7 1058.0,586.1 1058.5,586.4 1059.0,586.7 1059.5,587.0 1060.0,587.3 1060.5,587.6 1061.0,587.9 1061.5,588.2 1062.0,588.5 1062.5,588.8 1063.0,588.8 1063.5,588.4 1064.0,588.0 1064.5,587.6 1065.0,587.2 1065.5,586.7 1066.0,586.3 1066.5,585.9 1067.0,585.5 1067.5,585.1 1068.0,584.8 1068.5,584.7 1069.0,584.6 1069.5,584.6 1070.0,584.5 1070.5,584.4 1071.0,584.4 1071.5,584.3 1072.0,584.4 1072.5,584.6 1073.0,584.7 1073.5,584.8 1074.0,585.0 1074.5,585.1 1075.0,585.3 1075.5,585.4 1076.0,585.5 1076.5,585.7 1077.0,585.8 1077.5,585.9 1078.0,585.9 1078.5,585.7 1079.0,585.6 1079.5,585.4 1080.0,585.2 1080.5,585.1 1081.0,584.9 1081.5,584.7 1082.0,584.5 1082.5,584.4 1083.0,584.2 1083.5,584.0 1084.0,583.9 1084.5,583.7 1085.0,583.5 1085.5,583.4 1086.0,583.2 1086.5,583.0 1087.0,582.8 1087.5,582.6 1088.0,582.4 1088.5,582.2 1089.0,582.0 1089.5,581.9 1090.0,581.7 1090.5,581.5 1091.0,581.3 1091.5,581.1 1092.0,580.9 1092.5,580.7 1093.0,580.6 1093.5,580.4 1094.0,580.3 1094.5,580.4 1095.0,580.4 1095.5,580.4 1096.0,580.5 1096.5,580.5 1097.0,580.6 1097.5,580.6 1098.0,580.4 1098.5,580.3 1099.0,580.1 1099.5,580.0 1100.0,579.8 1100.5,579.7 1101.0,579.5 1101.5,579.4 1102.0,579.2 1102.5,579.2 1103.0,579.6 1103.5,580.0 1104.0,580.4 1104.5,580.8 1105.0,581.2 1105.5,581.6 1106.0,582.0 1106.5,582.4 1107.0,582.8 1107.5,583.1 1108.0,583.5 1108.5,583.9 1109.0,584.3 1109.5,584.6 1110.0,585.0 1110.5,585.4 1111.0,585.8 1111.5,586.1 1112.0,586.5 1112.5,586.9 1113.0,587.2 1113.5,587.6 1114.0,588.0 1114.5,588.4 1115.0,588.6 1115.5,588.9 1116.0,589.1 1116.5,589.4 1117.0,589.6 1117.5,589.8 1118.0,590.1 1118.5,590.3 1119.0,590.6 1119.5,590.8 1120.0,591.4 1120.5,592.1 1121.0,592.9 1121.5,593.7 1122.0,594.4 1122.5,595.2 1123.0,596.0 1123.5,596.7 1124.0,597.5 1124.5,598.2 1125.0,598.6 1125.5,598.7 1126.0,598.9 1126.5,599.1 1127.0,599.3 1127.5,599.5 1128.0,599.7 1128.5,599.9 1129.0,600.1 1129.5,600.3 1130.0,600.3 1130.5,600.3 1131.0,600.3 1131.5,600.3 1132.0,600.3 1132.5,600.3 1133.0,600.3 1133.5,600.3 1134.0,600.3 1134.5,600.3 1135.0,600.3 1135.5,600.3 1136.0,600.3 1136.5,600.3 1137.0,600.3 1137.5,600.3 1137.7,600.3 1137.7,561.3 1137.5,561.3 1137.0,561.3 1136.5,561.3 1136.0,561.3 1135.5,561.3 1135.0,561.3 1134.5,561.3 1134.0,561.3 1133.5,561.3 1133.0,561.3 1132.5,561.3 1132.0,561.3 1131.5,561.2 1131.0,561.2 1130.5,561.1 1130.0,561.1 1129.5,561.0 1129.0,561.0 1128.5,560.9 1128.0,560.9 1127.5,560.8 1127.0,560.8 1126.5,560.5 1126.0,560.2 1125.5,560.0 1125.0,559.8 1124.5,559.5 1124.0,559.2 1123.5,559.0 1123.0,558.8 1122.5,558.5 1122.0,558.2 1121.5,558.0 1121.0,557.8 1120.5,557.5 1120.0,557.2 1119.5,557.1 1119.0,557.1 1118.5,557.1 1118.0,557.1 1117.5,557.1 1117.0,557.1 1116.5,557.1 1116.0,557.1 1115.5,557.1 1115.0,557.1 1114.5,557.1 1114.0,557.1 1113.5,557.1 1113.0,557.1 1112.5,557.1 1112.0,557.1 1111.5,557.1 1111.0,557.1 1110.5,556.5 1110.0,555.9 1109.5,555.4 1109.0,554.8 1108.5,554.2 1108.0,553.6 1107.5,553.0 1107.0,552.4 1106.5,551.9 1106.0,551.2 1105.5,550.4 1105.0,549.5 1104.5,548.6 1104.0,547.8 1103.5,546.9 1103.0,546.1 1102.5,545.2 1102.0,544.3 1101.5,543.5 1101.0,542.8 1100.5,542.5 1100.0,542.2 1099.5,542.0 1099.0,541.8 1098.5,541.5 1098.0,541.2 1097.5,541.0 1097.0,540.8 1096.5,540.5 1096.0,540.2 1095.5,540.0 1095.0,539.8 1094.5,539.5 1094.0,539.2 1093.5,539.1 1093.0,539.1 1092.5,539.1 1092.0,539.1 1091.5,539.1 1091.0,539.1 1090.5,539.1 1090.0,539.1 1089.5,539.1 1089.0,539.1 1088.5,539.1 1088.0,539.1 1087.5,539.1 1087.0,539.1 1086.5,539.1 1086.0,539.1 1085.5,539.1 1085.0,539.1 1084.5,539.1 1084.0,539.1 1083.5,539.1 1083.0,539.1 1082.5,539.1 1082.0,539.1 1081.5,539.1 1081.0,539.1 1080.5,539.1 1080.0,539.1 1079.5,539.1 1079.0,539.1 1078.5,539.1 1078.0,539.1 1077.5,539.1 1077.0,539.1 1076.5,539.1 1076.0,539.0 1075.5,538.8 1075.0,538.7 1074.5,538.5 1074.0,538.4 1073.5,538.2 1073.0,538.1 1072.5,537.9 1072.0,537.8 1071.5,537.7 1071.0,537.5 1070.5,537.4 1070.0,537.3 1069.5,537.3 1069.0,537.3 1068.5,537.3 1068.0,537.3 1067.5,537.3 1067.0,537.3 1066.5,537.3 1066.0,537.3 1065.5,537.3 1065.0,537.2 1064.5,537.2 1064.0,537.2 1063.5,537.2 1063.0,537.2 1062.5,537.2 1062.0,537.2 1061.5,537.2 1061.0,537.2 1060.5,537.2 1060.0,537.2 1059.5,537.2 1059.0,537.2 1058.5,537.2 1058.0,537.2 1057.5,537.2 1057.0,537.2 1056.5,537.2 1056.0,537.2 1055.5,537.2 1055.0,537.2 1054.5,537.1 1054.0,537.1 1053.5,537.1 1053.0,537.1 1052.5,537.1 1052.0,537.1 1051.5,537.1 1051.0,537.1 1050.5,537.1 1050.0,537.1 1049.5,537.1 1049.0,536.9 1048.5,536.5 1048.0,536.2 1047.5,535.8 1047.0,535.4 1046.5,535.1 1046.0,534.7 1045.5,534.3 1045.0,534.0 1044.5,533.6 1044.0,533.2 1043.5,532.9 1043.0,532.5 1042.5,532.1 1042.0,531.8 1041.5,531.2 1041.0,530.6 1040.5,530.0 1040.0,529.3 1039.5,528.7 1039.0,528.1 1038.5,527.5 1038.0,526.9 1037.5,526.2 1037.0,525.6 1036.5,525.2 1036.0,524.8 1035.5,524.4 1035.0,524.0 1034.5,523.6 1034.0,523.2 1033.5,522.8 1033.0,522.4 1032.5,522.0 1032.0,521.6 1031.5,521.2 1031.0,520.8 1030.5,520.4 1030.0,520.0 1029.5,519.6 1029.0,519.2 1028.5,518.8 1028.0,518.6 1027.5,518.6 1027.0,518.6 1026.5,518.5 1026.0,518.5 1025.5,518.5 1025.0,518.5 1024.5,518.5 1024.0,518.5 1023.5,518.5 1023.0,518.4 1022.5,518.4 1022.0,518.4 1021.5,518.4 1021.0,518.4 1020.5,518.4 1020.0,518.4 1019.5,518.3 1019.0,518.3 1018.5,518.3 1018.0,518.3 1017.5,518.3 1017.0,518.3 1016.5,518.3 1016.0,518.2 1015.5,518.2 1015.0,518.2 1014.5,518.2 1014.0,518.2 1013.5,518.2 1013.0,518.2 1012.5,518.1 1012.0,518.1 1011.5,518.1 1011.0,518.1 1010.5,517.8 1010.0,517.5 1009.5,517.3 1009.0,517.0 1008.5,516.7 1008.0,516.4 1007.5,516.2 1007.0,515.9 1006.5,515.6 1006.0,515.3 1005.5,515.0 1005.0,514.8 1004.5,514.5 1004.0,514.2 1003.5,513.9 1003.0,513.7 1002.5,513.4 1002.0,513.1 1001.5,512.8 1001.0,512.6 1000.5,512.6 1000.0,512.5 999.5,512.5 999.0,512.5 998.5,512.5 998.0,512.4 997.5,512.4 997.0,512.4 996.5,512.3 996.0,512.3 995.5,512.3 995.0,512.3 994.5,512.2 994.0,512.2 993.5,512.2 993.0,512.1 992.5,512.1 992.0,512.1 991.5,512.1 991.0,512.0 990.5,512.0 990.0,512.0 989.5,511.9 989.0,511.9 988.5,511.6 988.0,510.7 987.5,509.9 987.0,509.1 986.5,508.2 986.0,507.4 985.5,506.5 985.0,505.7 984.5,505.4 984.0,505.2 983.5,504.9 983.0,504.7 982.5,504.4 982.0,504.2 981.5,503.9 981.0,503.7 980.5,503.4 980.0,503.2 979.5,503.1 979.0,503.0 978.5,502.9 978.0,502.9 977.5,502.8 977.0,502.7 976.5,502.6 976.0,502.5 975.5,502.5 975.0,502.4 974.5,502.3 974.0,502.2 973.5,502.1 973.0,502.0 972.5,501.9 972.0,501.6 971.5,501.3 971.0,501.0 970.5,500.7 970.0,500.4 969.5,500.1 969.0,499.8 968.5,499.5 968.0,499.2 967.5,498.9 967.0,498.6 966.5,498.3 966.0,498.3 965.5,498.3 965.0,498.3 964.5,498.3 964.0,498.3 963.5,498.3 963.0,498.3 962.5,498.3 962.0,498.3 961.5,498.3 961.0,498.3 960.5,498.3 960.0,498.3 959.5,498.3 959.0,498.3 958.5,498.3 958.0,498.3 957.5,498.3 957.0,498.3 956.5,498.3 956.0,498.3 955.5,498.3 955.0,498.3 954.5,498.3 954.0,498.0 953.5,496.6 953.0,495.2 952.5,493.9 952.0,492.5 951.5,491.1 951.0,489.7 950.5,488.3 950.0,486.9 949.5,485.5 949.0,484.4 948.5,483.6 948.0,482.8 947.5,482.0 947.0,481.2 946.5,480.4 946.0,479.6 945.5,478.9 945.0,478.1 944.5,477.3 944.0,476.8 943.5,476.8 943.0,476.8 942.5,476.8 942.0,476.8 941.5,476.8 941.0,476.8 940.5,476.8 940.0,476.8 939.5,476.8 939.0,476.8 938.5,476.8 938.0,476.7 937.5,476.7 937.0,476.7 936.5,476.7 936.0,476.7 935.5,476.7 935.0,476.7 934.5,476.7 934.0,476.7 933.5,476.7 933.0,476.7 932.5,476.7 932.0,476.4 931.5,475.9 931.0,475.4 930.5,474.9 930.0,474.3 929.5,473.8 929.0,473.3 928.5,472.8 928.0,472.3 927.5,471.8 927.0,471.3 926.5,470.8 926.0,470.2 925.5,469.7 925.0,469.2 924.5,468.7 924.0,468.2 923.5,467.4 923.0,466.6 922.5,465.8 922.0,465.1 921.5,464.3 921.0,463.5 920.5,462.7 920.0,461.9 919.5,461.1 919.0,460.4 918.5,459.6 918.0,458.8 917.5,458.0 917.0,457.1 916.5,456.3 916.0,455.4 915.5,454.5 915.0,453.7 914.5,452.8 914.0,451.9 913.5,451.1 913.0,450.2 912.5,449.3 912.0,448.5 911.5,447.6 911.0,447.6 910.5,447.6 910.0,447.7 909.5,447.7 909.0,447.7 908.5,447.7 908.0,447.8 907.5,447.8 907.0,447.8 906.5,447.8 906.0,447.9 905.5,447.9 905.0,447.9 904.5,447.9 904.0,448.0 903.5,448.0 903.0,447.9 902.5,447.8 902.0,447.7 901.5,447.6 901.0,447.5 900.5,447.4 900.0,447.3 899.5,447.2 899.0,447.0 898.5,446.9 898.0,446.8 897.5,446.7 897.0,446.6 896.5,446.5 896.0,446.4 895.5,446.3 895.0,446.2 894.5,446.1 894.0,446.0 893.5,445.8 893.0,445.7 892.5,445.6 892.0,445.5 891.5,445.4 891.0,445.3 890.5,445.2 890.0,445.1 889.5,444.8 889.0,443.7 888.5,442.7 888.0,441.6 887.5,440.6 887.0,439.5 886.5,438.5 886.0,437.4 885.5,436.4 885.0,435.3 884.5,434.4 884.0,433.8 883.5,433.1 883.0,432.4 882.5,431.7 882.0,431.1 881.5,430.4 881.0,429.7 880.5,429.0 880.0,428.4 879.5,427.7 879.0,427.0 878.5,426.3 878.0,425.7 877.5,425.0 877.0,424.3 876.5,423.6 876.0,423.1 875.5,423.1 875.0,423.1 874.5,423.1 874.0,423.1 873.5,423.1 873.0,423.1 872.5,423.1 872.0,423.1 871.5,423.1 871.0,423.1 870.5,423.1 870.0,423.1 869.5,423.0 869.0,423.0 868.5,423.0 868.0,423.0 867.5,423.0 867.0,423.0 866.5,423.0 866.0,423.0 865.5,423.0 865.0,423.0 864.5,423.0 864.0,423.0 863.5,423.0 863.0,423.0 862.5,423.0 862.0,423.0 861.5,423.0 861.0,423.0 860.5,423.0 860.0,423.0 859.5,423.0 859.0,423.0 858.5,423.0 858.0,423.0 857.5,423.0 857.0,423.0 856.5,423.0 856.0,422.9 855.5,422.9 855.0,422.9 854.5,422.9 854.0,422.9 853.5,422.9 853.0,422.9 852.5,422.9 852.0,422.9 851.5,422.9 851.0,422.9 850.5,422.9 850.0,422.9 849.5,422.9 849.0,422.9 848.5,422.9 848.0,422.9 847.5,422.9 847.0,422.9 846.5,422.9 846.0,422.9 845.5,422.9 845.0,422.9 844.5,422.9 844.0,422.9 843.5,422.9 843.0,422.8 842.5,422.8 842.0,422.8 841.5,422.8 841.0,422.8 840.5,422.8 840.0,422.8 839.5,422.8 839.0,422.8 838.5,422.8 838.0,422.8 837.5,422.8 837.0,422.8 836.5,422.7 836.0,422.4 835.5,422.0 835.0,421.7 834.5,421.3 834.0,421.0 833.5,420.6 833.0,420.3 832.5,419.9 832.0,419.6 831.5,419.3 831.0,419.2 830.5,419.1 830.0,419.0 829.5,418.9 829.0,418.8 828.5,418.7 828.0,418.6 827.5,415.6 827.0,411.9 826.5,408.2 826.0,404.5 825.5,400.3 825.0,396.0 824.5,391.6 824.0,388.9 823.5,388.5 823.0,388.2 822.5,387.9 822.0,387.5 821.5,387.2 821.0,386.9 820.5,386.5 820.0,386.2 819.5,385.9 819.0,385.6 818.5,385.2 818.0,384.9 817.5,384.6 817.0,384.2 816.5,383.9 816.0,383.6 815.5,383.3 815.0,383.3 814.5,383.2 814.0,383.2 813.5,383.2 813.0,383.2 812.5,383.1 812.0,383.1 811.5,383.1 811.0,383.0 810.5,383.0 810.0,383.0 809.5,382.9 809.0,382.9 808.5,382.9 808.0,382.9 807.5,382.8 807.0,382.8 806.5,382.3 806.0,381.6 805.5,380.9 805.0,380.2 804.5,379.5 804.0,378.8 803.5,378.2 803.0,377.5 802.5,376.8 802.0,376.1 801.5,376.0 801.0,376.0 800.5,375.9 800.0,375.8 799.5,375.8 799.0,375.7 798.5,375.6 798.0,375.5 797.5,375.5 797.0,375.4 796.5,374.8 796.0,374.2 795.5,373.7 795.0,373.1 794.5,372.5 794.0,371.9 793.5,371.3 793.0,370.7 792.5,370.2 792.0,369.7 791.5,369.6 791.0,369.6 790.5,369.5 790.0,369.4 789.5,369.3 789.0,369.3 788.5,369.2 788.0,369.1 787.5,369.1 787.0,369.0 786.5,368.9 786.0,368.9 785.5,368.8 785.0,368.7 784.5,368.6 784.0,368.5 783.5,368.3 783.0,368.2 782.5,368.0 782.0,367.8 781.5,367.7 781.0,367.5 780.5,367.3 780.0,367.2 779.5,367.0 779.0,366.9 778.5,366.7 778.0,366.7 777.5,366.6 777.0,366.6 776.5,366.6 776.0,366.5 775.5,366.5 775.0,366.4 774.5,366.4 774.0,366.4 773.5,366.3 773.0,366.3 772.5,366.3 772.0,366.2 771.5,366.2 771.0,366.1 770.5,366.1 770.0,366.1 769.5,366.0 769.0,366.0 768.5,366.0 768.0,365.9 767.5,365.9 767.0,365.8 766.5,365.8 766.0,365.8 765.5,365.7 765.0,365.7 764.5,365.7 764.0,365.6 763.5,365.6 763.0,365.5 762.5,365.5 762.0,365.2 761.5,364.8 761.0,364.4 760.5,364.1 760.0,363.7 759.5,363.3 759.0,362.9 758.5,362.6 758.0,362.2 757.5,361.8 757.0,361.7 756.5,361.7 756.0,361.6 755.5,361.6 755.0,361.5 754.5,361.5 754.0,361.4 753.5,361.4 753.0,361.3 752.5,361.3 752.0,361.2 751.5,361.2 751.0,361.1 750.5,361.0 750.0,360.8 749.5,359.9 749.0,359.0 748.5,358.1 748.0,357.2 747.5,356.3 747.0,355.4 746.5,354.4 746.0,353.5 745.5,352.6 745.0,351.9 744.5,351.8 744.0,351.7 743.5,351.6 743.0,351.4 742.5,351.3 742.0,351.2 741.5,351.1 741.0,350.6 740.5,350.0 740.0,349.3 739.5,348.7 739.0,348.0 738.5,347.4 738.0,346.8 737.5,346.1 737.0,345.5 736.5,344.9 736.0,344.2 735.5,343.6 735.0,343.1 734.5,342.8 734.0,342.5 733.5,342.2 733.0,341.9 732.5,341.6 732.0,341.3 731.5,341.0 731.0,340.7 730.5,340.3 730.0,340.0 729.5,339.7 729.0,339.4 728.5,338.7 728.0,338.0 727.5,337.4 727.0,336.7 726.5,336.0 726.0,335.4 725.5,334.7 725.0,334.1 724.5,333.4 724.0,332.7 723.5,332.1 723.0,331.4 722.5,331.0 722.0,331.0 721.5,330.9 721.0,330.9 720.5,330.9 720.0,330.9 719.5,330.9 719.0,330.8 718.5,330.8 718.0,330.8 717.5,330.8 717.0,330.8 716.5,330.7 716.0,330.7 715.5,330.7 715.0,330.1 714.5,329.4 714.0,328.8 713.5,328.1 713.0,327.5 712.5,326.8 712.0,326.2 711.5,325.5 711.0,324.9 710.5,324.2 710.0,323.6 709.5,323.0 709.0,322.7 708.5,322.6 708.0,322.5 707.5,322.5 707.0,322.4 706.5,322.3 706.0,322.3 705.5,322.2 705.0,322.1 704.5,322.1 704.0,322.0 703.5,321.9 703.0,321.8 702.5,321.8 702.0,321.7 701.5,321.1 701.0,320.5 700.5,319.8 700.0,319.1 699.5,318.4 699.0,317.7 698.5,317.0 698.0,316.3 697.5,315.6 697.0,314.9 696.5,314.3 696.0,313.6 695.5,312.9 695.0,312.2 694.5,311.5 694.0,310.8 693.5,310.1 693.0,309.7 692.5,309.6 692.0,309.5 691.5,309.4 691.0,309.3 690.5,309.2 690.0,309.1 689.5,309.1 689.0,309.0 688.5,308.9 688.0,308.8 687.5,308.7 687.0,308.6 686.5,308.5 686.0,308.5 685.5,308.4 685.0,308.3 684.5,308.2 684.0,308.1 683.5,308.0 683.0,307.9 682.5,307.8 682.0,307.8 681.5,307.7 681.0,307.6 680.5,307.5 680.0,306.9 679.5,306.2 679.0,305.6 678.5,304.9 678.0,304.3 677.5,303.7 677.0,303.0 676.5,302.4 676.0,301.7 675.5,301.1 675.0,300.1 674.5,298.5 674.0,297.0 673.5,295.5 673.0,293.9 672.5,292.4 672.0,290.9 671.5,289.3 671.0,287.3 670.5,284.6 670.0,281.9 669.5,279.2 669.0,276.5 668.5,273.7 668.0,271.0 667.5,268.3 667.0,265.6 666.5,265.2 666.0,264.7 665.5,264.3 665.0,263.8 664.5,263.4 664.0,262.9 663.5,262.5 663.0,262.0 662.5,261.6 662.0,261.1 661.5,260.7 661.0,260.3 660.5,259.8 660.0,259.4 659.5,258.9 659.0,258.5 658.5,258.0 658.0,257.6 657.5,257.5 657.0,257.4 656.5,257.3 656.0,257.3 655.5,257.2 655.0,257.2 654.5,257.1 654.0,257.1 653.5,257.0 653.0,256.9 652.5,256.7 652.0,256.6 651.5,256.4 651.0,256.2 650.5,256.1 650.0,255.9 649.5,255.8 649.0,255.6 648.5,255.5 648.0,255.3 647.5,255.1 647.0,255.0 646.5,254.8 646.0,254.7 645.5,254.5 645.0,254.4 644.5,254.3 644.0,254.3 643.5,254.3 643.0,254.3 642.5,254.3 642.0,254.3 641.5,254.3 641.0,254.3 640.5,254.3 640.0,254.3 639.5,254.3 639.0,254.3 638.5,254.3 638.0,254.3 637.5,254.3 637.0,254.3 636.5,254.3 636.0,254.3 635.5,254.3 635.0,254.3 634.5,254.3 634.0,254.3 633.5,254.3 633.0,254.3 632.5,254.3 632.0,254.3 631.5,254.3 631.0,254.3 630.5,254.3 630.0,254.3 629.5,254.3 629.0,254.3 628.5,254.3 628.0,254.3 627.5,254.3 627.0,254.3 626.5,254.3 626.0,254.3 625.5,254.3 625.0,254.3 624.5,254.3 624.0,254.3 623.5,254.3 623.0,254.3 622.5,254.3 622.0,254.2 621.5,254.0 621.0,253.9 620.5,253.8 620.0,253.6 619.5,253.5 619.0,253.4 618.5,251.6 618.0,248.8 617.5,246.0 617.0,243.2 616.5,240.4 616.0,237.6 615.5,234.8 615.0,232.1 614.5,229.3 614.0,226.5 613.5,225.9 613.0,225.8 612.5,225.7 612.0,225.7 611.5,225.6 611.0,225.6 610.5,225.5 610.0,225.5 609.5,225.4 609.0,225.2 608.5,224.9 608.0,224.7 607.5,224.4 607.0,224.1 606.5,223.9 606.0,223.6 605.5,222.0 605.0,220.4 604.5,218.8 604.0,217.2 603.5,215.7 603.0,214.1 602.5,212.5 602.0,210.9 601.5,209.3 601.0,206.9 600.5,204.5 600.0,202.1 599.5,199.8 599.0,197.4 598.5,195.0 598.0,192.6 597.5,190.2 597.0,188.2 596.5,187.7 596.0,187.1 595.5,186.6 595.0,186.1 594.5,185.6 594.0,185.1 593.5,184.5 593.0,184.0 592.5,183.9 592.0,183.9 591.5,183.9 591.0,183.9 590.5,183.9 590.0,183.9 589.5,183.9 589.0,183.9 588.5,183.9 588.0,183.9 587.5,183.9 587.0,183.9 586.5,183.9 586.0,183.9 585.5,183.9 585.0,183.9 584.5,183.9 584.0,183.9 583.5,183.8 583.0,183.6 582.5,183.4 582.0,183.2 581.5,183.0 581.0,182.8 580.5,182.6 580.0,182.4 579.5,182.2 579.0,182.1 578.5,182.1 578.0,182.1 577.5,182.1 577.0,182.1 576.5,182.1 576.0,182.1 575.5,182.1 575.0,182.1 574.5,182.1 574.0,182.1 573.5,182.1 573.0,182.1 572.5,182.1 572.0,182.1 571.5,182.1 571.0,182.1 570.5,182.1 570.0,182.1 569.5,182.1 569.0,182.1 568.5,182.1 568.0,182.1 567.5,182.1 567.0,182.1 566.5,182.1 566.0,182.1 565.5,182.1 565.0,182.1 564.5,182.1 564.0,182.1 563.5,182.1 563.0,182.1 562.5,182.1 562.0,182.1 561.5,182.1 561.0,182.1 560.5,182.1 560.0,182.1 559.5,182.1 559.0,182.1 558.5,182.1 558.0,182.1 557.5,182.1 557.0,182.1 556.5,182.1 556.0,182.1 555.5,182.1 555.0,182.1 554.5,182.1 554.0,182.1 553.5,182.1 553.0,182.1 552.5,182.1 552.0,182.1 551.5,182.1 551.0,182.1 550.5,182.1 550.0,182.1 549.5,182.1 549.0,182.1 548.5,182.1 548.0,182.1 547.5,182.1 547.0,182.1 546.5,182.1 546.0,182.1 545.5,182.1 545.0,182.1 544.5,182.1 544.0,182.1 543.5,182.1 543.0,182.1 542.5,182.1 542.0,182.1 541.5,182.1 541.0,182.1 540.5,182.1 540.0,182.1 539.5,181.4 539.0,180.3 538.5,179.3 538.0,178.2 537.5,177.1 537.0,176.0 536.5,174.9 536.0,174.6 535.5,177.5 535.0,180.5 534.5,183.4 534.0,186.3 533.5,189.3 533.0,192.2" fill="rgba(255,82,82,0.10)"/>
<polyline points="8.0,242.8 24.7,244.9 29.7,247.9 37.1,247.2 44.5,241.7 50.7,241.2 54.9,238.8 58.1,230.6 60.5,226.9 66.7,226.9 71.7,230.6 81.5,235.5 91.4,236.3 95.1,246.7 101.3,260.2 105.8,270.1 108.7,270.9 121.1,271.9 128.5,273.3 138.4,273.8 144.6,268.9 149.5,272.6 156.9,275.1 161.9,277.1 169.3,273.8 173.0,270.1 182.9,268.9 187.8,264.0 192.7,260.7 200.1,260.2 203.9,238.8 213.7,238.0 218.7,231.3 224.9,230.6 237.2,233.6 244.6,233.8 252.0,238.8 257.0,240.5 261.9,239.7 266.9,240.5 271.8,241.2 278.7,244.8 282.6,254.1 287.8,266.4 292.5,266.9 296.0,270.1 304.6,270.9 310.8,278.8 314.5,280.8 316.5,261.5 318.2,257.8 321.9,254.6 344.1,254.6 349.1,244.2 354.0,225.0 356.5,217.5 361.4,212.1 388.6,211.6 391.3,175.0 392.8,161.1 398.5,156.1 404.7,156.1 410.8,153.7 417.8,153.2 421.2,143.8 424.4,131.4 426.9,111.7 430.6,107.2 440.5,109.2 445.9,112.9 452.8,124.0 459.0,131.9 465.2,133.4 471.4,131.4 478.8,135.1 485.0,146.3 491.1,156.1 496.1,158.6 501.0,159.8 504.7,179.6 510.9,185.8 522.0,187.8 527.0,191.6 532.2,192.3 536.1,209.3 539.8,222.5 544.7,224.2 553.6,232.9 557.7,234.4 562.0,245.1 565.9,249.3 570.7,249.6 574.9,251.8 579.3,251.3 583.8,258.0 588.0,260.7 592.9,260.7 597.1,265.6 601.0,290.8 606.0,306.9 613.9,316.0 616.8,331.0 619.6,339.9 631.9,349.8 636.9,358.4 641.8,368.3 650.5,374.3 654.9,373.6 661.1,373.6 666.1,377.1 668.5,384.0 671.0,396.9 677.2,397.6 683.4,400.6 687.1,399.6 693.2,402.5 701.9,403.0 705.6,403.8 709.3,401.3 715.5,411.2 719.2,412.4 725.4,419.3 731.5,422.3 745.1,433.4 757.5,433.4 762.4,436.4 766.1,437.6 776.0,437.6 783.4,433.4 789.6,431.7 797.0,432.2 804.4,436.4 813.1,440.8 823.0,447.0 831.6,450.2 841.5,456.3 855.1,456.8 863.7,459.4 876.1,459.6 880.9,466.5 884.9,471.1 888.5,483.0 897.3,486.5 908.4,487.2 914.6,490.9 919.5,499.5 925.7,502.0 936.8,505.0 946.7,506.5 950.4,509.4 954.1,524.2 961.5,526.2 967.7,529.2 975.1,530.4 982.5,537.8 990.0,548.9 996.1,553.4 1003.5,555.9 1023.3,555.9 1030.7,563.8 1040.6,578.6 1051.7,581.1 1057.9,586.0 1062.8,589.0 1067.8,584.8 1071.5,584.3 1077.7,586.0 1085.1,583.5 1093.7,580.3 1097.4,580.6 1102.4,579.1 1107.3,583.0 1114.7,588.5 1119.7,590.9 1124.6,598.4 1129.6,600.3 1137.7,600.3" fill="none" stroke="#55b359" stroke-width="1.3" stroke-linejoin="round"/>
<polyline points="8.0,272.5 13.6,270.1 18.5,269.6 106.3,270.1 110.0,267.7 112.4,264.4 148.3,264.4 153.2,260.2 158.1,257.8 177.9,257.8 182.9,260.2 187.8,264.4 194.0,265.9 200.1,265.2 205.1,260.2 307.1,260.2 310.8,262.0 314.5,260.2 316.9,255.3 321.9,254.6 354.0,254.6 361.4,245.4 388.6,244.9 390.3,197.2 394.8,196.9 532.2,196.9 536.1,174.0 539.8,182.1 579.3,182.1 583.8,183.9 592.9,183.9 597.1,188.3 601.5,209.3 606.0,223.6 609.4,225.4 613.9,225.9 618.8,253.3 622.5,254.3 644.8,254.3 653.4,257.0 657.9,257.5 667.0,265.6 671.2,288.4 675.2,300.7 680.5,307.5 693.2,309.7 701.9,321.7 709.3,322.7 715.5,330.7 722.7,331.0 729.1,339.5 735.2,343.2 741.4,351.1 745.1,351.9 750.1,361.0 757.5,361.8 762.4,365.5 778.5,366.7 784.7,368.7 792.1,369.7 797.0,375.4 802.0,376.1 806.9,382.8 815.6,383.3 824.2,389.0 825.9,403.8 827.9,418.6 831.6,419.3 836.6,422.8 876.1,423.1 884.7,434.7 889.6,445.0 897.0,446.6 903.3,448.0 911.5,447.6 917.5,458.0 924.0,468.2 932.3,476.7 944.2,476.8 949.2,484.7 954.1,498.3 966.5,498.3 972.7,502.0 980.1,503.2 985.0,505.7 988.7,511.9 1001.1,512.6 1011.0,518.1 1028.3,518.6 1036.9,525.5 1041.9,531.7 1049.3,537.1 1070.3,537.3 1076.4,539.1 1093.7,539.1 1101.1,542.8 1106.1,551.4 1111.0,557.1 1119.7,557.1 1127.1,560.8 1132.0,561.3 1137.7,561.3" fill="none" stroke="#ff6464" stroke-width="1.3" stroke-linejoin="round"/>
<polyline points="8.0,265.9 34.6,265.9 37.1,270.1 39.5,274.6 60.5,274.6 68.0,275.8 76.6,275.8 81.5,273.3 92.7,273.1 96.9,260.2 104.3,260.2 108.7,248.4 148.3,248.4 153.2,238.0 156.9,234.3 170.0,234.3 174.2,241.7 179.1,252.8 190.3,254.6 195.2,256.0 200.1,261.5 205.1,260.2 210.0,255.3 243.4,254.6 247.8,249.1 252.0,244.9 278.7,244.2 281.7,217.0 282.9,197.2 308.3,196.9 313.2,178.4 318.2,143.8 321.9,131.9 356.5,130.9 361.9,126.5 369.6,126.5 375.0,137.6 388.6,137.6 392.3,140.1 396.0,161.1 401.0,163.6 423.2,163.6 430.6,192.2 435.8,192.4 443.0,200.0 447.9,203.3 454.1,217.9 459.0,222.3 470.2,224.4 475.1,233.1 480.0,238.0 485.0,239.7 488.7,246.7 491.1,268.9 493.6,276.3 497.3,287.4 502.3,291.1 507.2,309.7 509.7,320.8 514.6,325.7 518.3,330.4 522.0,332.0 527.0,340.2 534.3,341.1 540.5,345.2 554.1,346.8 559.0,348.5 561.5,367.1 569.7,369.0 574.6,375.7 579.5,376.5 584.5,381.9 592.4,382.4 601.0,389.3 603.5,404.1 606.0,417.7 610.9,419.5 614.6,423.4 650.0,422.8 672.2,422.8 674.7,420.3 687.1,420.3 693.2,427.3 696.9,429.7 701.9,435.9 709.3,443.5 724.0,443.5 730.2,450.5 737.6,453.6 767.3,453.6 772.2,459.8 775.9,464.7 780.4,475.8 785.8,480.8 793.2,483.7 805.6,483.9 810.5,489.4 821.6,490.2 829.0,495.6 838.9,496.8 842.6,500.5 845.1,509.2 855.0,510.4 862.4,514.1 869.8,515.4 876.0,521.5 883.4,535.1 887.1,541.3 890.8,543.8 914.4,544.4 919.4,552.0 925.0,561.2 931.8,568.2 941.8,568.7 950.4,574.9 956.6,577.4 965.2,578.1 973.9,579.8 998.6,580.3 1003.5,587.3 1011.0,591.0 1018.4,595.4 1028.3,595.9" fill="none" stroke="#333744" stroke-width="1.35" stroke-linejoin="round"/>
<polyline points="8.0,285.3 26.0,288.2 108.5,288.2 112.4,285.8 117.4,281.7 121.6,267.7 148.3,267.2 153.2,267.2 158.1,262.7 164.3,250.4 169.3,247.2 174.2,261.5 178.4,278.8 195.2,278.8 199.7,286.2 231.0,286.2 239.7,289.9 321.9,289.9 325.6,249.1 328.1,212.1 331.0,186.6 335.5,172.7 362.7,172.2 366.4,158.6 368.8,158.6 375.0,167.3 391.1,167.3 393.5,180.0 396.3,196.8 414.0,196.8 420.9,204.3 424.1,210.0 428.1,239.2 430.7,250.6 444.0,250.8 448.9,251.8 453.1,253.6 461.3,255.9 465.9,260.2 470.4,260.8 475.4,264.8 479.5,266.9 484.0,268.3 488.2,276.4 490.2,292.9 492.4,306.5 495.7,331.3 497.4,337.9 504.8,341.2 507.3,356.1 510.1,377.6 523.0,379.3 527.9,382.6 535.4,382.9 540.3,386.7 546.1,387.0 549.4,387.9 554.4,388.3 558.5,390.0 561.0,405.7 562.7,414.0 567.7,423.9 575.1,429.3 614.6,429.3 640.0,430.2 644.9,431.0 649.1,434.5 655.4,435.3 716.0,436.2 718.4,443.6 724.0,447.3 729.6,450.8 732.4,453.2 740.2,454.4 753.8,456.2 767.3,456.5 771.0,463.5 774.7,474.6 778.4,491.9 780.8,498.1 790.7,498.8 800.6,502.3 805.6,503.0 810.5,509.2 824.1,510.4 835.2,512.2 840.2,514.1 843.1,524.0 845.6,537.6 859.9,538.1 869.8,543.8 874.7,551.2 879.7,563.8 914.6,564.3 919.5,566.3 924.5,574.5 928.0,583.0 933.0,588.2 945.5,588.5 952.9,592.7 1008.5,592.7 1012.2,594.7 1020.8,600.8 1028.3,604.6" fill="none" stroke="#4caf50" stroke-width="2.15" stroke-linejoin="round" stroke-linecap="round"/>
<polyline points="8.0,238.0 37.1,238.0 40.8,239.2 45.7,241.2 49.4,245.4 53.1,254.1 58.1,255.3 63.0,255.3 68.0,260.2 72.4,262.2 76.6,260.2 81.0,255.3 85.2,252.1 91.4,249.1 95.1,228.1 96.9,223.7 101.3,222.7 182.9,222.7 187.8,223.9 205.1,225.7 221.2,225.2 226.1,227.4 234.7,221.9 243.4,217.0 247.1,212.1 252.0,198.5 254.5,196.0 261.9,192.8 271.8,187.4 278.7,183.4 282.4,104.7 289.8,101.8 302.1,98.1 321.9,93.6 331.8,93.1 405.4,93.1 410.4,104.7 418.3,104.7 424.4,108.7 430.6,116.6 441.7,127.0 447.9,127.7 454.1,137.6 460.3,148.7 464.0,161.1 467.7,180.8 471.4,190.7 475.6,192.0 480.0,200.6 483.7,201.8 487.9,219.1 500.0,220.2 504.7,233.1 510.9,236.3 515.9,245.4 519.6,261.5 526.2,269.8 531.9,278.6 536.0,278.8 540.1,291.4 548.6,291.6 553.2,298.5 571.1,298.5 575.6,309.4 579.8,311.8 583.8,316.0 588.0,325.4 591.5,332.5 593.6,337.4 597.3,346.1 607.2,346.1 614.6,353.5 617.1,389.3 619.1,409.1 624.5,410.8 650.0,411.2 693.2,411.2 701.9,413.2 705.6,423.5 709.3,428.0 713.0,440.8 716.7,448.8 722.2,452.2 731.5,454.0 740.2,455.9 793.2,455.9 798.3,462.7 833.4,463.3 837.4,465.7 840.8,471.9 848.2,473.2 863.0,478.1 884.7,478.6 888.3,485.7 891.5,489.5 895.9,505.5 899.5,514.1 902.7,518.3 912.1,518.8 925.5,519.2 928.2,525.5 931.8,538.5 935.3,545.0 937.5,547.5 954.1,548.2 959.1,552.7 965.2,562.5 971.4,568.0 977.6,568.7 1001.1,568.7 1009.7,571.2 1014.7,585.5 1028.3,585.5" fill="none" stroke="#ff5252" stroke-width="2.15" stroke-linejoin="round" stroke-linecap="round"/>
<polyline points="8.7,216.0 13.0,241.0 17.4,224.0 21.7,243.2 26.1,244.3 30.4,247.2 34.8,246.7 39.2,254.4 43.5,267.0 47.9,253.5 52.2,257.5 56.6,267.0 60.9,273.5 65.3,285.2 69.7,293.2 74.0,282.2 78.4,319.4 82.7,285.0 87.1,322.8 91.4,333.5 95.8,257.0 100.2,180.8 104.5,188.9 108.9,189.2 113.2,189.3 117.6,198.0 121.9,198.0 126.3,195.4 130.7,200.9 135.0,197.6 139.4,163.5 143.7,158.1 148.1,166.1 152.4,158.1 156.8,157.6 161.2,154.9 165.5,158.1 169.9,155.2 174.2,71.5 178.6,78.9 182.9,85.6 187.3,80.2 191.7,88.8 196.0,77.0 200.4,83.1 204.7,85.8 209.1,82.6 213.4,80.2 217.8,89.3 222.2,95.5 226.5,102.9 230.9,125.1 235.2,140.0 239.6,190.2 243.9,148.6 248.3,146.1 252.7,168.6 257.0,169.6 261.4,190.6 265.7,201.0 270.1,190.6 274.4,191.9 278.8,192.4 283.2,226.0 287.5,247.2 291.9,236.8 296.2,233.1 300.6,236.8 304.9,246.7 309.3,247.9 313.6,254.1 318.0,264.0 322.4,291.1 326.7,276.3 331.1,283.7 335.4,264.4 339.8,270.1 344.1,267.7 348.5,267.7 352.9,272.6 357.2,276.3 361.6,293.1 365.9,294.1 370.3,297.3 374.6,303.5 379.0,310.9 383.4,350.0 387.7,389.3 392.1,371.5 396.4,388.1 400.8,420.7 405.1,411.5 409.5,406.1 413.9,406.1 418.2,397.2 422.6,420.7 426.9,394.2 431.3,394.2 435.6,405.4 440.0,397.2 444.4,414.0 448.7,430.1 453.1,443.7 457.4,426.4 461.8,423.2 466.1,431.3 470.5,391.8 474.9,391.3 479.2,394.7 483.6,411.5 487.9,426.4 492.3,435.0 496.6,431.8 501.0,420.7 505.4,449.3 509.7,449.3 514.1,443.7 518.4,449.8 522.8,466.4 527.1,458.5 531.5,463.9 535.9,455.3 540.2,454.8 544.6,449.3 548.9,449.3 553.3,443.7 557.6,446.6 562.0,446.3 566.4,446.1 570.7,447.5 575.1,449.3 579.4,449.3 583.8,449.3 588.1,452.3 592.5,454.8 596.9,446.6 601.2,449.8 605.6,458.5 609.9,463.9 614.3,463.9 618.6,461.0 623.0,464.2 627.4,466.6 631.7,461.0 636.1,463.9 640.4,463.9 644.8,463.9 649.1,463.9 653.5,463.7 657.9,470.0 662.2,487.3 666.6,500.5 670.9,512.9 675.3,506.7 679.6,506.7 684.0,521.0 688.4,521.0 692.7,524.0 697.1,515.4 701.4,526.5 705.8,527.0 710.1,527.0 714.5,529.7 718.9,529.7 723.2,526.5 727.6,535.1 731.9,535.9 736.3,561.6 740.6,561.6 745.0,541.3 749.3,559.3 753.7,564.8 758.1,573.4 762.4,571.0 766.8,578.9 771.1,582.1 775.5,567.3 779.8,559.3 784.2,567.7 788.6,575.9 792.9,570.5 797.3,570.2 801.6,576.6 806.0,582.1 810.3,582.1 814.7,593.2 819.1,601.8 823.4,610.5 827.8,601.8 832.1,596.2 836.5,593.2 840.8,590.0 845.2,596.2 849.6,573.4 853.9,578.4 858.3,575.9 862.6,579.1 867.0,584.6 871.3,584.6 875.7,581.6 880.1,587.8 884.4,582.2 888.8,596.0 893.1,590.4 897.5,593.3 901.8,602.0 906.2,624.6 910.6,614.0 914.9,621.7 919.3,625.4" fill="none" stroke="#673ab7" stroke-width="2.15" stroke-linejoin="round" stroke-linecap="round"/>
<rect x="12.5" y="247.0" width="1" height="19.8" fill="#ef5350"/>
<rect x="11.1" y="252.8" width="3.8" height="3.5" fill="#ef5350"/>
<rect x="16.9" y="254.0" width="1" height="9.3" fill="#ef5350"/>
<rect x="15.5" y="256.3" width="3.8" height="2.3" fill="#ef5350"/>
<rect x="21.2" y="259.8" width="1" height="15.2" fill="#ef5350"/>
<rect x="19.8" y="262.1" width="3.8" height="5.4" fill="#ef5350"/>
<rect x="25.6" y="264.5" width="1" height="17.5" fill="#ef5350"/>
<rect x="24.2" y="267.5" width="3.8" height="14.5" fill="#ef5350"/>
<rect x="29.9" y="268.0" width="1" height="36.8" fill="#ef5350"/>
<rect x="28.5" y="276.1" width="3.8" height="2.4" fill="#ef5350"/>
<rect x="34.3" y="276.1" width="1" height="31.5" fill="#26a69a"/>
<rect x="32.9" y="276.1" width="3.8" height="11.7" fill="#26a69a"/>
<rect x="38.7" y="275.0" width="1" height="26.8" fill="#26a69a"/>
<rect x="37.3" y="275.0" width="3.8" height="1.2" fill="#26a69a"/>
<rect x="43.0" y="265.6" width="1" height="21.0" fill="#26a69a"/>
<rect x="41.6" y="278.0" width="3.8" height="1.0" fill="#26a69a"/>
<rect x="47.4" y="264.5" width="1" height="11.6" fill="#26a69a"/>
<rect x="46.0" y="270.3" width="3.8" height="5.1" fill="#26a69a"/>
<rect x="51.7" y="262.1" width="1" height="14.0" fill="#ef5350"/>
<rect x="50.3" y="270.3" width="3.8" height="4.2" fill="#ef5350"/>
<rect x="56.1" y="238.8" width="1" height="39.7" fill="#26a69a"/>
<rect x="55.1" y="239.2" width="3" height="29.5" fill="#9c27b0" stroke="#26a69a" stroke-width="0.85"/>
<rect x="60.4" y="224.0" width="1" height="1.0" fill="#26a69a"/>
<rect x="59.0" y="224.0" width="3.8" height="1.0" fill="#26a69a"/>
<rect x="64.8" y="224.0" width="1" height="11.3" fill="#26a69a"/>
<rect x="63.4" y="224.0" width="3.8" height="1.0" fill="#26a69a"/>
<rect x="69.2" y="220.0" width="1" height="21.0" fill="#ef5350"/>
<rect x="67.8" y="224.8" width="3.8" height="2.3" fill="#ef5350"/>
<rect x="73.5" y="225.3" width="1" height="3.7" fill="#26a69a"/>
<rect x="72.5" y="225.7" width="3" height="1.5" fill="#9c27b0" stroke="#26a69a" stroke-width="0.85"/>
<rect x="77.9" y="221.8" width="1" height="7.7" fill="#26a69a"/>
<rect x="76.9" y="222.2" width="3" height="6.9" fill="#9c27b0" stroke="#26a69a" stroke-width="0.85"/>
<rect x="82.2" y="215.5" width="1" height="8.1" fill="#26a69a"/>
<rect x="80.8" y="221.8" width="3.8" height="1.4" fill="#26a69a"/>
<rect x="86.6" y="221.8" width="1" height="7.7" fill="#ef5350"/>
<rect x="85.2" y="221.8" width="3.8" height="3.0" fill="#ef5350"/>
<rect x="90.9" y="219.0" width="1" height="4.6" fill="#26a69a"/>
<rect x="89.5" y="219.0" width="3.8" height="2.8" fill="#26a69a"/>
<rect x="95.3" y="189.8" width="1" height="29.2" fill="#26a69a"/>
<rect x="94.3" y="190.2" width="3" height="28.4" fill="#9c27b0" stroke="#26a69a" stroke-width="0.85"/>
<rect x="99.7" y="189.8" width="1" height="5.9" fill="#ef5350"/>
<rect x="98.7" y="190.2" width="3" height="5.1" fill="#fbbc2a" stroke="#ef5350" stroke-width="0.85"/>
<rect x="104.0" y="195.2" width="1" height="29.6" fill="#ef5350"/>
<rect x="102.6" y="198.0" width="3.8" height="26.8" fill="#ef5350"/>
<rect x="108.4" y="215.5" width="1" height="20.5" fill="#26a69a"/>
<rect x="107.0" y="218.3" width="3.8" height="5.8" fill="#26a69a"/>
<rect x="112.7" y="206.0" width="1" height="16.5" fill="#ef5350"/>
<rect x="111.3" y="219.0" width="3.8" height="2.8" fill="#ef5350"/>
<rect x="117.1" y="219.0" width="1" height="10.5" fill="#ef5350"/>
<rect x="115.7" y="221.8" width="3.8" height="2.3" fill="#ef5350"/>
<rect x="121.4" y="219.0" width="1" height="22.6" fill="#ef5350"/>
<rect x="120.0" y="224.9" width="3.8" height="16.5" fill="#ef5350"/>
<rect x="125.8" y="221.8" width="1" height="25.2" fill="#26a69a"/>
<rect x="124.4" y="224.1" width="3.8" height="6.1" fill="#26a69a"/>
<rect x="130.2" y="243.7" width="1" height="1.0" fill="#26a69a"/>
<rect x="128.8" y="243.7" width="3.8" height="1.0" fill="#26a69a"/>
<rect x="134.5" y="233.0" width="1" height="11.7" fill="#26a69a"/>
<rect x="133.1" y="243.7" width="3.8" height="1.0" fill="#26a69a"/>
<rect x="138.9" y="244.2" width="1" height="14.4" fill="#26a69a"/>
<rect x="137.5" y="246.2" width="3.8" height="1.0" fill="#26a69a"/>
<rect x="143.2" y="244.6" width="1" height="3.1" fill="#ef5350"/>
<rect x="141.8" y="244.6" width="3.8" height="3.1" fill="#ef5350"/>
<rect x="147.6" y="247.7" width="1" height="10.9" fill="#ef5350"/>
<rect x="146.2" y="247.7" width="3.8" height="5.1" fill="#ef5350"/>
<rect x="151.9" y="252.8" width="1" height="14.4" fill="#ef5350"/>
<rect x="150.9" y="259.9" width="3" height="6.9" fill="#fbbc2a" stroke="#ef5350" stroke-width="0.85"/>
<rect x="156.3" y="253.5" width="1" height="19.1" fill="#26a69a"/>
<rect x="154.9" y="253.5" width="3.8" height="13.7" fill="#26a69a"/>
<rect x="160.7" y="253.6" width="1" height="13.3" fill="#ef5350"/>
<rect x="159.3" y="253.6" width="3.8" height="6.6" fill="#ef5350"/>
<rect x="165.0" y="259.0" width="1" height="8.7" fill="#26a69a"/>
<rect x="163.6" y="265.0" width="3.8" height="1.0" fill="#26a69a"/>
<rect x="169.4" y="265.2" width="1" height="13.6" fill="#ef5350"/>
<rect x="168.4" y="265.6" width="3" height="7.2" fill="#fbbc2a" stroke="#ef5350" stroke-width="0.85"/>
<rect x="173.7" y="273.8" width="1" height="11.2" fill="#ef5350"/>
<rect x="172.7" y="274.2" width="3" height="10.4" fill="#fbbc2a" stroke="#ef5350" stroke-width="0.85"/>
<rect x="178.1" y="282.5" width="1" height="34.1" fill="#ef5350"/>
<rect x="177.1" y="282.9" width="3" height="9.8" fill="#fbbc2a" stroke="#ef5350" stroke-width="0.85"/>
<rect x="182.4" y="282.5" width="1" height="22.2" fill="#26a69a"/>
<rect x="181.0" y="282.5" width="3.8" height="8.1" fill="#26a69a"/>
<rect x="186.8" y="285.5" width="1" height="34.1" fill="#ef5350"/>
<rect x="185.8" y="285.9" width="3" height="33.3" fill="#fbbc2a" stroke="#ef5350" stroke-width="0.85"/>
<rect x="191.2" y="280.0" width="1" height="34.6" fill="#26a69a"/>
<rect x="189.8" y="285.0" width="3.8" height="23.4" fill="#26a69a"/>
<rect x="195.5" y="276.3" width="1" height="46.5" fill="#ef5350"/>
<rect x="194.1" y="285.0" width="3.8" height="37.8" fill="#ef5350"/>
<rect x="199.9" y="323.3" width="1" height="10.3" fill="#ef5350"/>
<rect x="198.9" y="323.7" width="3" height="9.5" fill="#fbbc2a" stroke="#ef5350" stroke-width="0.85"/>
<rect x="204.2" y="287.7" width="1" height="1.0" fill="#26a69a"/>
<rect x="202.8" y="287.7" width="3.8" height="1.0" fill="#26a69a"/>
<rect x="208.6" y="177.8" width="1" height="55.2" fill="#26a69a"/>
<rect x="207.6" y="181.5" width="3" height="31.0" fill="#9c27b0" stroke="#26a69a" stroke-width="0.85"/>
<rect x="212.9" y="175.3" width="1" height="16.9" fill="#ef5350"/>
<rect x="211.5" y="181.1" width="3.8" height="8.7" fill="#ef5350"/>
<rect x="217.3" y="184.0" width="1" height="8.2" fill="#26a69a"/>
<rect x="215.9" y="188.9" width="3.8" height="1.7" fill="#26a69a"/>
<rect x="221.7" y="189.3" width="1" height="5.8" fill="#26a69a"/>
<rect x="220.3" y="189.3" width="3.8" height="3.3" fill="#26a69a"/>
<rect x="226.0" y="189.8" width="1" height="11.5" fill="#ef5350"/>
<rect x="224.6" y="189.8" width="3.8" height="8.6" fill="#ef5350"/>
<rect x="230.4" y="192.6" width="1" height="11.2" fill="#ef5350"/>
<rect x="229.0" y="192.6" width="3.8" height="5.8" fill="#ef5350"/>
<rect x="234.7" y="192.6" width="1" height="8.7" fill="#26a69a"/>
<rect x="233.3" y="195.5" width="3.8" height="3.3" fill="#26a69a"/>
<rect x="239.1" y="189.8" width="1" height="11.9" fill="#ef5350"/>
<rect x="237.7" y="195.5" width="3.8" height="6.2" fill="#ef5350"/>
<rect x="243.4" y="192.6" width="1" height="9.1" fill="#26a69a"/>
<rect x="242.0" y="198.4" width="3.8" height="3.3" fill="#26a69a"/>
<rect x="247.8" y="164.5" width="1" height="36.8" fill="#26a69a"/>
<rect x="246.8" y="164.9" width="3" height="33.1" fill="#9c27b0" stroke="#26a69a" stroke-width="0.85"/>
<rect x="252.2" y="155.7" width="1" height="14.3" fill="#26a69a"/>
<rect x="250.8" y="157.9" width="3.8" height="5.5" fill="#26a69a"/>
<rect x="256.5" y="157.9" width="1" height="8.8" fill="#ef5350"/>
<rect x="255.1" y="157.9" width="3.8" height="8.8" fill="#ef5350"/>
<rect x="260.9" y="159.0" width="1" height="13.2" fill="#26a69a"/>
<rect x="259.9" y="159.4" width="3" height="6.9" fill="#9c27b0" stroke="#26a69a" stroke-width="0.85"/>
<rect x="265.2" y="156.1" width="1" height="5.1" fill="#26a69a"/>
<rect x="263.8" y="156.1" width="3.8" height="3.3" fill="#26a69a"/>
<rect x="269.6" y="155.7" width="1" height="2.6" fill="#26a69a"/>
<rect x="268.2" y="155.7" width="3.8" height="2.6" fill="#26a69a"/>
<rect x="273.9" y="155.7" width="1" height="2.6" fill="#ef5350"/>
<rect x="272.5" y="155.7" width="3.8" height="2.6" fill="#ef5350"/>
<rect x="278.3" y="154.7" width="1" height="1.0" fill="#26a69a"/>
<rect x="276.9" y="154.7" width="3.8" height="1.0" fill="#26a69a"/>
<rect x="282.7" y="59.9" width="1" height="14.3" fill="#ef5350"/>
<rect x="281.7" y="63.6" width="3" height="7.6" fill="#9c27b0" stroke="#ef5350" stroke-width="0.85"/>
<rect x="287.0" y="72.0" width="1" height="10.0" fill="#ef5350"/>
<rect x="286.0" y="75.1" width="3" height="4.2" fill="#9c27b0" stroke="#ef5350" stroke-width="0.85"/>
<rect x="291.4" y="78.2" width="1" height="15.8" fill="#ef5350"/>
<rect x="290.4" y="80.8" width="3" height="5.1" fill="#9c27b0" stroke="#ef5350" stroke-width="0.85"/>
<rect x="295.7" y="80.4" width="1" height="10.3" fill="#26a69a"/>
<rect x="294.7" y="80.8" width="3" height="6.7" fill="#9c27b0" stroke="#26a69a" stroke-width="0.85"/>
<rect x="300.1" y="80.4" width="1" height="11.0" fill="#ef5350"/>
<rect x="299.1" y="80.8" width="3" height="6.7" fill="#9c27b0" stroke="#ef5350" stroke-width="0.85"/>
<rect x="304.4" y="78.2" width="1" height="15.8" fill="#26a69a"/>
<rect x="303.4" y="78.6" width="3" height="9.5" fill="#9c27b0" stroke="#26a69a" stroke-width="0.85"/>
<rect x="308.8" y="78.2" width="1" height="14.8" fill="#ef5350"/>
<rect x="307.8" y="78.6" width="3" height="4.0" fill="#9c27b0" stroke="#ef5350" stroke-width="0.85"/>
<rect x="313.1" y="74.7" width="1" height="13.8" fill="#ef5350"/>
<rect x="311.7" y="83.0" width="3.8" height="3.3" fill="#ef5350"/>
<rect x="317.5" y="77.5" width="1" height="11.0" fill="#26a69a"/>
<rect x="316.1" y="83.0" width="3.8" height="3.3" fill="#26a69a"/>
<rect x="321.9" y="79.0" width="1" height="12.8" fill="#26a69a"/>
<rect x="320.5" y="79.5" width="3.8" height="1.0" fill="#26a69a"/>
<rect x="326.2" y="80.4" width="1" height="9.2" fill="#ef5350"/>
<rect x="324.8" y="80.4" width="3.8" height="9.2" fill="#ef5350"/>
<rect x="330.6" y="89.6" width="1" height="7.7" fill="#ef5350"/>
<rect x="329.2" y="89.6" width="3.8" height="4.4" fill="#ef5350"/>
<rect x="334.9" y="94.0" width="1" height="8.8" fill="#ef5350"/>
<rect x="333.5" y="97.3" width="3.8" height="5.5" fill="#ef5350"/>
<rect x="339.3" y="100.6" width="1" height="26.0" fill="#ef5350"/>
<rect x="337.9" y="102.8" width="3.8" height="23.8" fill="#ef5350"/>
<rect x="343.6" y="127.0" width="1" height="27.6" fill="#ef5350"/>
<rect x="342.6" y="127.4" width="3" height="12.5" fill="#fbbc2a" stroke="#ef5350" stroke-width="0.85"/>
<rect x="348.0" y="192.2" width="1" height="1.0" fill="#26a69a"/>
<rect x="346.6" y="192.2" width="3.8" height="1.0" fill="#26a69a"/>
<rect x="352.4" y="140.3" width="1" height="40.7" fill="#26a69a"/>
<rect x="351.0" y="150.2" width="3.8" height="25.3" fill="#26a69a"/>
<rect x="356.7" y="146.7" width="1" height="23.0" fill="#26a69a"/>
<rect x="355.3" y="146.7" width="3.8" height="3.3" fill="#26a69a"/>
<rect x="361.1" y="143.8" width="1" height="25.9" fill="#ef5350"/>
<rect x="359.7" y="146.3" width="3.8" height="19.7" fill="#ef5350"/>
<rect x="365.4" y="163.5" width="1" height="17.3" fill="#ef5350"/>
<rect x="364.0" y="163.5" width="3.8" height="6.2" fill="#ef5350"/>
<rect x="369.8" y="169.7" width="1" height="19.8" fill="#ef5350"/>
<rect x="368.8" y="170.1" width="3" height="19.0" fill="#fbbc2a" stroke="#ef5350" stroke-width="0.85"/>
<rect x="374.1" y="183.6" width="1" height="32.2" fill="#ef5350"/>
<rect x="373.1" y="190.2" width="3" height="10.3" fill="#fbbc2a" stroke="#ef5350" stroke-width="0.85"/>
<rect x="378.5" y="169.7" width="1" height="42.3" fill="#26a69a"/>
<rect x="377.1" y="188.6" width="3.8" height="12.3" fill="#26a69a"/>
<rect x="382.9" y="189.8" width="1" height="22.2" fill="#26a69a"/>
<rect x="381.5" y="191.8" width="3.8" height="1.0" fill="#26a69a"/>
<rect x="387.2" y="189.8" width="1" height="21.0" fill="#26a69a"/>
<rect x="385.8" y="192.3" width="3.8" height="1.0" fill="#26a69a"/>
<rect x="391.6" y="186.1" width="1" height="32.1" fill="#ef5350"/>
<rect x="390.6" y="190.2" width="3" height="27.6" fill="#fbbc2a" stroke="#ef5350" stroke-width="0.85"/>
<rect x="395.9" y="204.7" width="1" height="48.1" fill="#ef5350"/>
<rect x="394.9" y="219.4" width="3" height="27.6" fill="#fbbc2a" stroke="#ef5350" stroke-width="0.85"/>
<rect x="400.3" y="207.1" width="1" height="40.3" fill="#26a69a"/>
<rect x="399.3" y="236.7" width="3" height="10.3" fill="#fbbc2a" stroke="#26a69a" stroke-width="0.85"/>
<rect x="404.6" y="212.1" width="1" height="34.6" fill="#26a69a"/>
<rect x="403.2" y="233.8" width="3.8" height="1.0" fill="#26a69a"/>
<rect x="409.0" y="230.6" width="1" height="19.8" fill="#ef5350"/>
<rect x="408.0" y="233.4" width="3" height="5.4" fill="#fbbc2a" stroke="#ef5350" stroke-width="0.85"/>
<rect x="413.4" y="226.9" width="1" height="23.5" fill="#ef5350"/>
<rect x="412.4" y="241.6" width="3" height="5.4" fill="#fbbc2a" stroke="#ef5350" stroke-width="0.85"/>
<rect x="417.7" y="246.9" width="1" height="1.0" fill="#26a69a"/>
<rect x="416.3" y="246.9" width="3.8" height="1.0" fill="#26a69a"/>
<rect x="422.1" y="252.8" width="1" height="1.0" fill="#26a69a"/>
<rect x="420.7" y="252.8" width="3.8" height="1.0" fill="#26a69a"/>
<rect x="426.4" y="247.9" width="1" height="33.3" fill="#ef5350"/>
<rect x="425.4" y="253.7" width="3" height="10.3" fill="#fbbc2a" stroke="#ef5350" stroke-width="0.85"/>
<rect x="430.8" y="256.5" width="1" height="48.2" fill="#ef5350"/>
<rect x="429.8" y="268.1" width="3" height="22.1" fill="#fbbc2a" stroke="#ef5350" stroke-width="0.85"/>
<rect x="435.1" y="256.5" width="1" height="44.5" fill="#26a69a"/>
<rect x="434.1" y="276.7" width="3" height="13.5" fill="#fbbc2a" stroke="#26a69a" stroke-width="0.85"/>
<rect x="439.5" y="261.5" width="1" height="32.1" fill="#ef5350"/>
<rect x="438.5" y="279.7" width="3" height="5.4" fill="#fbbc2a" stroke="#ef5350" stroke-width="0.85"/>
<rect x="443.9" y="264.4" width="1" height="7.0" fill="#26a69a"/>
<rect x="442.5" y="264.4" width="3.8" height="7.0" fill="#26a69a"/>
<rect x="448.2" y="259.0" width="1" height="11.9" fill="#ef5350"/>
<rect x="446.8" y="264.4" width="3.8" height="6.5" fill="#ef5350"/>
<rect x="452.6" y="262.0" width="1" height="16.8" fill="#26a69a"/>
<rect x="451.2" y="267.2" width="3.8" height="1.0" fill="#26a69a"/>
<rect x="456.9" y="262.0" width="1" height="19.7" fill="#26a69a"/>
<rect x="455.5" y="267.2" width="3.8" height="1.0" fill="#26a69a"/>
<rect x="461.3" y="264.4" width="1" height="16.8" fill="#ef5350"/>
<rect x="459.9" y="267.7" width="3.8" height="6.1" fill="#ef5350"/>
<rect x="465.6" y="275.8" width="1" height="1.0" fill="#26a69a"/>
<rect x="464.2" y="275.8" width="3.8" height="1.0" fill="#26a69a"/>
<rect x="470.0" y="276.3" width="1" height="19.8" fill="#ef5350"/>
<rect x="469.0" y="276.7" width="3" height="17.0" fill="#fbbc2a" stroke="#ef5350" stroke-width="0.85"/>
<rect x="474.4" y="291.1" width="1" height="16.6" fill="#26a69a"/>
<rect x="473.0" y="293.6" width="3.8" height="1.0" fill="#26a69a"/>
<rect x="478.7" y="293.6" width="1" height="11.1" fill="#ef5350"/>
<rect x="477.7" y="294.0" width="3" height="2.4" fill="#fbbc2a" stroke="#ef5350" stroke-width="0.85"/>
<rect x="483.1" y="289.9" width="1" height="14.8" fill="#ef5350"/>
<rect x="482.1" y="291.0" width="3" height="10.9" fill="#fbbc2a" stroke="#ef5350" stroke-width="0.85"/>
<rect x="487.4" y="297.3" width="1" height="18.5" fill="#ef5350"/>
<rect x="486.4" y="305.6" width="3" height="4.9" fill="#fbbc2a" stroke="#ef5350" stroke-width="0.85"/>
<rect x="491.8" y="302.3" width="1" height="57.4" fill="#ef5350"/>
<rect x="490.8" y="308.8" width="3" height="41.7" fill="#fbbc2a" stroke="#ef5350" stroke-width="0.85"/>
<rect x="496.1" y="388.1" width="1" height="1.0" fill="#26a69a"/>
<rect x="494.7" y="388.1" width="3.8" height="1.0" fill="#26a69a"/>
<rect x="500.5" y="362.0" width="1" height="29.8" fill="#ef5350"/>
<rect x="499.5" y="366.2" width="3" height="5.4" fill="#fbbc2a" stroke="#ef5350" stroke-width="0.85"/>
<rect x="504.9" y="372.0" width="1" height="18.5" fill="#26a69a"/>
<rect x="503.5" y="388.0" width="3.8" height="1.3" fill="#26a69a"/>
<rect x="509.2" y="378.2" width="1" height="56.8" fill="#ef5350"/>
<rect x="508.2" y="389.0" width="3" height="30.8" fill="#fbbc2a" stroke="#ef5350" stroke-width="0.85"/>
<rect x="513.6" y="389.3" width="1" height="30.9" fill="#26a69a"/>
<rect x="512.6" y="412.7" width="3" height="7.1" fill="#fbbc2a" stroke="#26a69a" stroke-width="0.85"/>
<rect x="517.9" y="402.9" width="1" height="23.5" fill="#26a69a"/>
<rect x="516.5" y="406.6" width="3.8" height="2.0" fill="#fbbc2a"/>
<rect x="522.3" y="391.8" width="1" height="25.9" fill="#26a69a"/>
<rect x="521.3" y="407.0" width="3" height="7.4" fill="#fbbc2a" stroke="#26a69a" stroke-width="0.85"/>
<rect x="526.6" y="397.2" width="1" height="8.9" fill="#26a69a"/>
<rect x="525.2" y="397.2" width="3.8" height="8.9" fill="#26a69a"/>
<rect x="531.0" y="397.2" width="1" height="26.2" fill="#ef5350"/>
<rect x="530.0" y="400.8" width="3" height="19.0" fill="#fbbc2a" stroke="#ef5350" stroke-width="0.85"/>
<rect x="535.4" y="390.5" width="1" height="30.9" fill="#26a69a"/>
<rect x="534.0" y="394.2" width="3.8" height="26.0" fill="#26a69a"/>
<rect x="539.7" y="394.5" width="1" height="2.0" fill="#26a69a"/>
<rect x="538.3" y="394.5" width="3.8" height="2.0" fill="#26a69a"/>
<rect x="544.1" y="377.0" width="1" height="29.1" fill="#ef5350"/>
<rect x="542.7" y="400.4" width="3.8" height="5.7" fill="#ef5350"/>
<rect x="548.4" y="391.8" width="1" height="12.3" fill="#26a69a"/>
<rect x="547.0" y="397.2" width="3.8" height="5.7" fill="#26a69a"/>
<rect x="552.8" y="391.8" width="1" height="22.2" fill="#ef5350"/>
<rect x="551.4" y="400.4" width="3.8" height="11.1" fill="#ef5350"/>
<rect x="557.1" y="409.1" width="1" height="27.6" fill="#ef5350"/>
<rect x="556.1" y="409.5" width="3" height="22.1" fill="#fbbc2a" stroke="#ef5350" stroke-width="0.85"/>
<rect x="561.5" y="432.5" width="1" height="42.1" fill="#ef5350"/>
<rect x="560.5" y="435.4" width="3" height="7.9" fill="#fbbc2a" stroke="#ef5350" stroke-width="0.85"/>
<rect x="565.9" y="423.9" width="1" height="34.6" fill="#26a69a"/>
<rect x="564.5" y="425.6" width="3.8" height="15.1" fill="#26a69a"/>
<rect x="570.2" y="423.4" width="1" height="1.0" fill="#26a69a"/>
<rect x="568.8" y="423.4" width="3.8" height="1.0" fill="#26a69a"/>
<rect x="574.6" y="431.3" width="1" height="1.0" fill="#26a69a"/>
<rect x="573.2" y="431.3" width="3.8" height="1.0" fill="#26a69a"/>
<rect x="578.9" y="372.0" width="1" height="34.1" fill="#26a69a"/>
<rect x="577.5" y="391.8" width="3.8" height="14.3" fill="#26a69a"/>
<rect x="583.3" y="388.0" width="1" height="3.3" fill="#ef5350"/>
<rect x="581.9" y="388.0" width="3.8" height="3.3" fill="#ef5350"/>
<rect x="587.6" y="388.6" width="1" height="22.9" fill="#ef5350"/>
<rect x="586.2" y="388.6" width="3.8" height="6.1" fill="#ef5350"/>
<rect x="592.0" y="403.4" width="1" height="8.1" fill="#ef5350"/>
<rect x="590.6" y="406.1" width="3.8" height="5.4" fill="#ef5350"/>
<rect x="596.4" y="409.1" width="1" height="18.5" fill="#ef5350"/>
<rect x="595.0" y="411.5" width="3.8" height="14.9" fill="#ef5350"/>
<rect x="600.7" y="423.9" width="1" height="13.6" fill="#ef5350"/>
<rect x="599.3" y="426.4" width="3.8" height="8.6" fill="#ef5350"/>
<rect x="605.1" y="430.8" width="1" height="1.0" fill="#26a69a"/>
<rect x="603.7" y="430.8" width="3.8" height="1.0" fill="#26a69a"/>
<rect x="609.4" y="420.7" width="1" height="11.3" fill="#26a69a"/>
<rect x="608.0" y="420.7" width="3.8" height="11.3" fill="#26a69a"/>
<rect x="613.8" y="417.7" width="1" height="34.6" fill="#ef5350"/>
<rect x="612.4" y="423.4" width="3.8" height="25.2" fill="#ef5350"/>
<rect x="618.1" y="438.0" width="1" height="13.1" fill="#ef5350"/>
<rect x="616.7" y="446.6" width="3.8" height="2.7" fill="#ef5350"/>
<rect x="622.5" y="438.0" width="1" height="14.3" fill="#26a69a"/>
<rect x="621.1" y="443.7" width="3.8" height="4.9" fill="#26a69a"/>
<rect x="626.9" y="438.0" width="1" height="14.3" fill="#ef5350"/>
<rect x="625.5" y="441.2" width="3.8" height="8.1" fill="#ef5350"/>
<rect x="631.2" y="447.4" width="1" height="19.7" fill="#ef5350"/>
<rect x="630.2" y="447.8" width="3" height="18.2" fill="#fbbc2a" stroke="#ef5350" stroke-width="0.85"/>
<rect x="635.6" y="441.2" width="1" height="28.4" fill="#26a69a"/>
<rect x="634.2" y="458.5" width="3.8" height="5.4" fill="#26a69a"/>
<rect x="639.9" y="443.7" width="1" height="20.2" fill="#ef5350"/>
<rect x="638.5" y="458.5" width="3.8" height="5.4" fill="#ef5350"/>
<rect x="644.3" y="454.8" width="1" height="1.0" fill="#26a69a"/>
<rect x="642.9" y="454.8" width="3.8" height="1.0" fill="#26a69a"/>
<rect x="648.6" y="454.8" width="1" height="1.0" fill="#26a69a"/>
<rect x="647.2" y="454.8" width="3.8" height="1.0" fill="#26a69a"/>
<rect x="653.0" y="434.7" width="1" height="14.8" fill="#ef5350"/>
<rect x="651.6" y="447.0" width="3.8" height="2.5" fill="#ef5350"/>
<rect x="657.4" y="447.0" width="1" height="7.4" fill="#26a69a"/>
<rect x="656.0" y="449.0" width="3.8" height="1.0" fill="#26a69a"/>
<rect x="661.7" y="439.6" width="1" height="13.6" fill="#26a69a"/>
<rect x="660.3" y="443.3" width="3.8" height="3.2" fill="#26a69a"/>
<rect x="666.1" y="437.1" width="1" height="13.6" fill="#26a69a"/>
<rect x="664.7" y="446.5" width="3.8" height="3.0" fill="#26a69a"/>
<rect x="670.4" y="432.2" width="1" height="16.1" fill="#26a69a"/>
<rect x="669.0" y="447.0" width="3.8" height="1.0" fill="#26a69a"/>
<rect x="674.8" y="437.1" width="1" height="14.1" fill="#26a69a"/>
<rect x="673.4" y="445.8" width="3.8" height="2.5" fill="#26a69a"/>
<rect x="679.1" y="443.3" width="1" height="8.7" fill="#26a69a"/>
<rect x="677.7" y="445.8" width="3.8" height="2.5" fill="#26a69a"/>
<rect x="683.5" y="447.0" width="1" height="7.4" fill="#26a69a"/>
<rect x="682.1" y="449.0" width="3.8" height="1.0" fill="#26a69a"/>
<rect x="687.9" y="444.0" width="1" height="8.0" fill="#26a69a"/>
<rect x="686.5" y="448.5" width="3.8" height="1.0" fill="#26a69a"/>
<rect x="692.2" y="448.5" width="1" height="1.0" fill="#26a69a"/>
<rect x="690.8" y="448.5" width="3.8" height="1.0" fill="#26a69a"/>
<rect x="696.6" y="447.0" width="1" height="7.4" fill="#ef5350"/>
<rect x="695.2" y="449.0" width="3.8" height="3.0" fill="#ef5350"/>
<rect x="700.9" y="443.3" width="1" height="11.9" fill="#ef5350"/>
<rect x="699.5" y="452.0" width="3.8" height="3.2" fill="#ef5350"/>
<rect x="705.3" y="446.5" width="1" height="8.7" fill="#26a69a"/>
<rect x="703.9" y="446.5" width="3.8" height="8.7" fill="#26a69a"/>
<rect x="709.6" y="444.0" width="1" height="5.5" fill="#ef5350"/>
<rect x="708.2" y="444.0" width="3.8" height="5.5" fill="#ef5350"/>
<rect x="714.0" y="445.8" width="1" height="14.8" fill="#ef5350"/>
<rect x="712.6" y="447.5" width="3.8" height="10.6" fill="#ef5350"/>
<rect x="718.4" y="457.3" width="1" height="12.4" fill="#ef5350"/>
<rect x="717.4" y="458.9" width="3" height="4.2" fill="#fbbc2a" stroke="#ef5350" stroke-width="0.85"/>
<rect x="722.7" y="462.2" width="1" height="1.0" fill="#26a69a"/>
<rect x="721.3" y="462.2" width="3.8" height="1.0" fill="#26a69a"/>
<rect x="727.1" y="460.5" width="1" height="1.0" fill="#26a69a"/>
<rect x="725.7" y="460.5" width="3.8" height="1.0" fill="#26a69a"/>
<rect x="731.4" y="461.1" width="1" height="13.5" fill="#ef5350"/>
<rect x="730.0" y="461.1" width="3.8" height="2.5" fill="#ef5350"/>
<rect x="735.8" y="463.9" width="1" height="8.2" fill="#ef5350"/>
<rect x="734.8" y="464.3" width="3" height="2.0" fill="#fbbc2a" stroke="#ef5350" stroke-width="0.85"/>
<rect x="740.1" y="454.8" width="1" height="11.9" fill="#26a69a"/>
<rect x="738.7" y="460.8" width="3.8" height="5.9" fill="#26a69a"/>
<rect x="744.5" y="458.5" width="1" height="6.2" fill="#26a69a"/>
<rect x="743.1" y="458.5" width="3.8" height="3.0" fill="#26a69a"/>
<rect x="748.8" y="458.5" width="1" height="4.5" fill="#ef5350"/>
<rect x="747.4" y="458.5" width="3.8" height="4.5" fill="#ef5350"/>
<rect x="753.2" y="461.5" width="1" height="2.0" fill="#ef5350"/>
<rect x="751.8" y="461.5" width="3.8" height="2.0" fill="#ef5350"/>
<rect x="757.6" y="463.5" width="1" height="6.2" fill="#26a69a"/>
<rect x="756.2" y="463.5" width="3.8" height="1.0" fill="#26a69a"/>
<rect x="761.9" y="458.5" width="1" height="11.2" fill="#26a69a"/>
<rect x="760.5" y="463.5" width="3.8" height="1.0" fill="#26a69a"/>
<rect x="766.3" y="463.5" width="1" height="8.6" fill="#ef5350"/>
<rect x="765.3" y="463.9" width="3" height="4.9" fill="#fbbc2a" stroke="#ef5350" stroke-width="0.85"/>
<rect x="770.6" y="469.7" width="1" height="16.8" fill="#ef5350"/>
<rect x="769.6" y="470.1" width="3" height="16.0" fill="#fbbc2a" stroke="#ef5350" stroke-width="0.85"/>
<rect x="775.0" y="487.0" width="1" height="11.6" fill="#ef5350"/>
<rect x="774.0" y="487.4" width="3" height="10.8" fill="#fbbc2a" stroke="#ef5350" stroke-width="0.85"/>
<rect x="779.3" y="498.6" width="1" height="22.4" fill="#ef5350"/>
<rect x="778.3" y="499.0" width="3" height="13.5" fill="#fbbc2a" stroke="#ef5350" stroke-width="0.85"/>
<rect x="783.7" y="495.6" width="1" height="16.1" fill="#26a69a"/>
<rect x="782.3" y="508.0" width="3.8" height="2.0" fill="#fbbc2a"/>
<rect x="788.1" y="500.5" width="1" height="8.7" fill="#26a69a"/>
<rect x="786.7" y="506.0" width="3.8" height="1.0" fill="#26a69a"/>
<rect x="792.4" y="504.7" width="1" height="18.8" fill="#ef5350"/>
<rect x="791.4" y="505.1" width="3" height="16.0" fill="#fbbc2a" stroke="#ef5350" stroke-width="0.85"/>
<rect x="796.8" y="521.0" width="1" height="1.0" fill="#26a69a"/>
<rect x="795.4" y="521.0" width="3.8" height="1.0" fill="#26a69a"/>
<rect x="801.1" y="523.5" width="1" height="1.0" fill="#26a69a"/>
<rect x="799.7" y="523.5" width="3.8" height="1.0" fill="#26a69a"/>
<rect x="805.5" y="495.6" width="1" height="19.8" fill="#ef5350"/>
<rect x="804.5" y="507.6" width="3" height="7.4" fill="#fbbc2a" stroke="#ef5350" stroke-width="0.85"/>
<rect x="809.8" y="516.1" width="1" height="19.0" fill="#ef5350"/>
<rect x="808.8" y="516.5" width="3" height="10.1" fill="#fbbc2a" stroke="#ef5350" stroke-width="0.85"/>
<rect x="814.2" y="519.1" width="1" height="9.9" fill="#ef5350"/>
<rect x="812.8" y="525.2" width="3.8" height="1.8" fill="#fbbc2a"/>
<rect x="818.6" y="521.5" width="1" height="11.2" fill="#26a69a"/>
<rect x="817.2" y="526.0" width="3.8" height="1.0" fill="#26a69a"/>
<rect x="822.9" y="524.0" width="1" height="6.2" fill="#ef5350"/>
<rect x="821.5" y="527.7" width="3.8" height="2.0" fill="#fbbc2a"/>
<rect x="827.3" y="525.2" width="1" height="7.5" fill="#ef5350"/>
<rect x="826.3" y="528.1" width="3" height="1.7" fill="#fbbc2a" stroke="#ef5350" stroke-width="0.85"/>
<rect x="831.6" y="519.1" width="1" height="16.0" fill="#ef5350"/>
<rect x="830.6" y="525.2" width="3" height="1.4" fill="#fbbc2a" stroke="#ef5350" stroke-width="0.85"/>
<rect x="836.0" y="524.0" width="1" height="13.6" fill="#ef5350"/>
<rect x="835.0" y="527.4" width="3" height="7.8" fill="#fbbc2a" stroke="#ef5350" stroke-width="0.85"/>
<rect x="840.3" y="532.7" width="1" height="4.9" fill="#26a69a"/>
<rect x="838.9" y="534.5" width="3.8" height="1.0" fill="#26a69a"/>
<rect x="844.7" y="535.9" width="1" height="27.7" fill="#ef5350"/>
<rect x="843.7" y="536.3" width="3" height="24.9" fill="#fbbc2a" stroke="#ef5350" stroke-width="0.85"/>
<rect x="849.1" y="548.7" width="1" height="12.9" fill="#ef5350"/>
<rect x="848.1" y="559.7" width="3" height="1.5" fill="#fbbc2a" stroke="#ef5350" stroke-width="0.85"/>
<rect x="853.4" y="535.9" width="1" height="28.9" fill="#26a69a"/>
<rect x="852.0" y="541.3" width="3.8" height="18.0" fill="#26a69a"/>
<rect x="857.8" y="548.0" width="1" height="11.3" fill="#ef5350"/>
<rect x="856.4" y="548.0" width="3.8" height="11.3" fill="#ef5350"/>
<rect x="862.1" y="553.7" width="1" height="17.3" fill="#ef5350"/>
<rect x="861.1" y="559.7" width="3" height="4.7" fill="#fbbc2a" stroke="#ef5350" stroke-width="0.85"/>
<rect x="866.5" y="559.3" width="1" height="14.1" fill="#ef5350"/>
<rect x="865.5" y="565.7" width="3" height="7.3" fill="#fbbc2a" stroke="#ef5350" stroke-width="0.85"/>
<rect x="870.8" y="571.0" width="1" height="4.4" fill="#26a69a"/>
<rect x="869.4" y="571.0" width="3.8" height="1.0" fill="#26a69a"/>
<rect x="875.2" y="578.6" width="1" height="1.0" fill="#26a69a"/>
<rect x="873.8" y="578.6" width="3.8" height="1.0" fill="#26a69a"/>
<rect x="879.6" y="579.6" width="1" height="13.6" fill="#ef5350"/>
<rect x="878.6" y="580.0" width="3" height="1.7" fill="#fbbc2a" stroke="#ef5350" stroke-width="0.85"/>
<rect x="883.9" y="564.8" width="1" height="27.2" fill="#26a69a"/>
<rect x="882.5" y="564.8" width="3.8" height="18.0" fill="#26a69a"/>
<rect x="888.3" y="541.3" width="1" height="23.5" fill="#26a69a"/>
<rect x="886.9" y="559.3" width="3.8" height="5.5" fill="#26a69a"/>
<rect x="892.6" y="556.1" width="1" height="19.3" fill="#ef5350"/>
<rect x="891.2" y="559.3" width="3.8" height="8.0" fill="#ef5350"/>
<rect x="897.0" y="562.3" width="1" height="16.6" fill="#ef5350"/>
<rect x="895.6" y="567.3" width="3.8" height="8.6" fill="#ef5350"/>
<rect x="901.3" y="564.8" width="1" height="11.1" fill="#26a69a"/>
<rect x="899.9" y="574.9" width="3.8" height="1.0" fill="#26a69a"/>
<rect x="905.7" y="568.0" width="1" height="13.6" fill="#26a69a"/>
<rect x="904.3" y="578.0" width="3.8" height="1.0" fill="#26a69a"/>
<rect x="910.1" y="567.3" width="1" height="14.8" fill="#ef5350"/>
<rect x="908.7" y="570.2" width="3.8" height="8.7" fill="#ef5350"/>
<rect x="914.4" y="577.1" width="1" height="7.5" fill="#ef5350"/>
<rect x="913.0" y="578.9" width="3.8" height="3.9" fill="#ef5350"/>
<rect x="918.8" y="581.6" width="1" height="1.0" fill="#26a69a"/>
<rect x="917.4" y="581.6" width="3.8" height="1.0" fill="#26a69a"/>
<rect x="923.1" y="582.3" width="1" height="22.3" fill="#ef5350"/>
<rect x="922.1" y="582.7" width="3" height="10.3" fill="#fbbc2a" stroke="#ef5350" stroke-width="0.85"/>
<rect x="927.5" y="588.5" width="1" height="17.3" fill="#ef5350"/>
<rect x="926.5" y="593.8" width="3" height="7.9" fill="#fbbc2a" stroke="#ef5350" stroke-width="0.85"/>
<rect x="931.8" y="599.1" width="1" height="20.3" fill="#ef5350"/>
<rect x="930.8" y="602.5" width="3" height="7.8" fill="#fbbc2a" stroke="#ef5350" stroke-width="0.85"/>
<rect x="936.2" y="602.1" width="1" height="14.8" fill="#26a69a"/>
<rect x="934.8" y="602.1" width="3.8" height="9.1" fill="#26a69a"/>
<rect x="940.6" y="593.4" width="1" height="14.9" fill="#26a69a"/>
<rect x="939.2" y="595.9" width="3.8" height="6.2" fill="#26a69a"/>
<rect x="944.9" y="591.0" width="1" height="14.8" fill="#26a69a"/>
<rect x="943.5" y="592.7" width="3.8" height="3.7" fill="#26a69a"/>
<rect x="949.3" y="590.2" width="1" height="3.2" fill="#26a69a"/>
<rect x="947.9" y="590.2" width="3.8" height="3.2" fill="#26a69a"/>
<rect x="953.6" y="595.9" width="1" height="1.0" fill="#26a69a"/>
<rect x="952.2" y="595.9" width="3.8" height="1.0" fill="#26a69a"/>
<rect x="958.0" y="564.5" width="1" height="22.8" fill="#26a69a"/>
<rect x="956.6" y="573.2" width="3.8" height="2.9" fill="#26a69a"/>
<rect x="962.3" y="573.2" width="1" height="17.0" fill="#ef5350"/>
<rect x="960.9" y="573.2" width="3.8" height="5.9" fill="#ef5350"/>
<rect x="966.7" y="576.1" width="1" height="5.0" fill="#26a69a"/>
<rect x="965.3" y="576.1" width="3.8" height="3.0" fill="#26a69a"/>
<rect x="971.1" y="573.2" width="1" height="6.6" fill="#ef5350"/>
<rect x="969.7" y="575.6" width="3.8" height="3.0" fill="#ef5350"/>
<rect x="975.4" y="576.1" width="1" height="9.9" fill="#ef5350"/>
<rect x="974.0" y="576.1" width="3.8" height="8.7" fill="#ef5350"/>
<rect x="979.8" y="585.3" width="1" height="2.4" fill="#26a69a"/>
<rect x="978.4" y="585.3" width="3.8" height="2.4" fill="#26a69a"/>
<rect x="984.1" y="582.3" width="1" height="3.0" fill="#26a69a"/>
<rect x="982.7" y="582.3" width="3.8" height="3.0" fill="#26a69a"/>
<rect x="988.5" y="582.3" width="1" height="5.0" fill="#ef5350"/>
<rect x="987.1" y="582.3" width="3.8" height="5.0" fill="#ef5350"/>
<rect x="992.8" y="582.3" width="1" height="5.4" fill="#26a69a"/>
<rect x="991.4" y="582.3" width="3.8" height="5.4" fill="#26a69a"/>
<rect x="997.2" y="582.3" width="1" height="16.1" fill="#ef5350"/>
<rect x="995.8" y="585.3" width="3.8" height="11.3" fill="#ef5350"/>
<rect x="1001.6" y="592.2" width="1" height="1.0" fill="#26a69a"/>
<rect x="1000.2" y="592.2" width="3.8" height="1.0" fill="#26a69a"/>
<rect x="1005.9" y="591.0" width="1" height="7.4" fill="#ef5350"/>
<rect x="1004.5" y="591.0" width="3.8" height="2.4" fill="#ef5350"/>
<rect x="1010.3" y="592.7" width="1" height="11.9" fill="#ef5350"/>
<rect x="1008.9" y="594.7" width="3.8" height="8.1" fill="#ef5350"/>
<rect x="1014.6" y="598.4" width="1" height="26.4" fill="#ef5350"/>
<rect x="1013.6" y="602.5" width="3" height="21.9" fill="#fbbc2a" stroke="#ef5350" stroke-width="0.85"/>
<rect x="1019.0" y="610.0" width="1" height="17.5" fill="#26a69a"/>
<rect x="1017.6" y="613.2" width="3.8" height="11.1" fill="#26a69a"/>
<rect x="1023.3" y="621.8" width="1" height="1.0" fill="#26a69a"/>
<rect x="1021.9" y="621.8" width="3.8" height="1.0" fill="#26a69a"/>
<rect x="1027.7" y="624.5" width="1" height="1.0" fill="#26a69a"/>
<rect x="1026.3" y="624.5" width="3.8" height="1.0" fill="#26a69a"/>
<path d="M444.4 273.5l1.9 3h-3.8z" fill="#1fdc85"/>
<path d="M535.9 422.0l1.9 3h-3.8z" fill="#1fdc85"/>
<path d="M566.4 459.5l1.9 3h-3.8z" fill="#1fdc85"/>
<path d="M853.9 565.5l1.9 3h-3.8z" fill="#1fdc85"/>
<path d="M884.4 592.5l1.9 3h-3.8z" fill="#1fdc85"/>
<line x1="10" y1="625" x2="1148" y2="625" stroke="#fbc02d" stroke-width="1.2" stroke-dasharray="1.2 2.1"/>
</g>
<path d="M1148.5 27V715M10 687.5H1204" stroke="#4f525d" stroke-width="1" fill="none"/>
<g font-family="Liberation Sans, sans-serif" font-size="12" fill="#555861">
<text x="1158" y="43.8" font-size="11">VND</text>
<text x="1158" y="684.3">53000</text>
<text x="1158" y="655.4">54000</text>
<text x="1158" y="626.6">55000</text>
<text x="1158" y="597.7">56000</text>
<text x="1158" y="568.9">57000</text>
<text x="1158" y="540.0">58000</text>
<text x="1158" y="511.2">59000</text>
<text x="1158" y="482.3">60000</text>
<text x="1158" y="453.4">61000</text>
<text x="1158" y="424.6">62000</text>
<text x="1158" y="395.7">63000</text>
<text x="1158" y="366.9">64000</text>
<text x="1158" y="338.0">65000</text>
<text x="1158" y="309.2">66000</text>
<text x="1158" y="280.3">67000</text>
<text x="1158" y="251.4">68000</text>
<text x="1158" y="222.6">69000</text>
<text x="1158" y="193.7">70000</text>
<text x="1158" y="164.9">71000</text>
<text x="1158" y="136.0">72000</text>
<text x="1158" y="107.2">73000</text>
<text x="1158" y="78.3">74000</text>
</g>
<rect x="1148" y="617" width="49.8" height="15.8" rx="2" fill="#fbc02d"/>
<text x="1158" y="629.4" font-family="Liberation Sans, sans-serif" font-size="12" fill="#1b1d24">54900</text>
<g font-family="Liberation Sans, sans-serif" font-size="12" fill="#555861" text-anchor="middle">
<text x="65.3" y="705.5" font-weight="bold" fill="#3a3d47">5</text>
<text x="209.1" y="705.5">7</text>
<text x="322.4" y="705.5">13:00</text>
<text x="426.9" y="705.5" font-weight="bold" fill="#3a3d47">12</text>
<text x="579.4" y="705.5">14</text>
<text x="697.1" y="705.5">13:00</text>
<text x="806.0" y="705.5" font-weight="bold" fill="#3a3d47">19</text>
<text x="958.5" y="705.5">21</text>
<text x="1050.0" y="705.5">10:00</text>
<text x="1137.1" y="705.5">23</text>
</g>
</svg>
<div class="hdr">duyvinh18x xuất bản về TradingView.com, Tháng Mười hai 21, 2022 18:01 UTC+7</div>
<div class="leg"><span>TẬP ĐOÀN VINGROUP - CÔNG TY CỔ PHẦN, 15, HOSE</span><b class="b1">54900</b><b class="b2">−1000 (−1.79%)</b></div>
<svg width="20" height="15.6" viewBox="0 0 36 28" style="position:absolute;left:10px;top:724.6px"><path d="M14 22H7V11H0V4h14v18zM28 22h-8l7.5-18h8L28 22z" fill="#1e222d"/><circle cx="20" cy="8" r="4" fill="#1e222d"/></svg>
<div class="ftr">TradingView</div>
</body>
</html>
